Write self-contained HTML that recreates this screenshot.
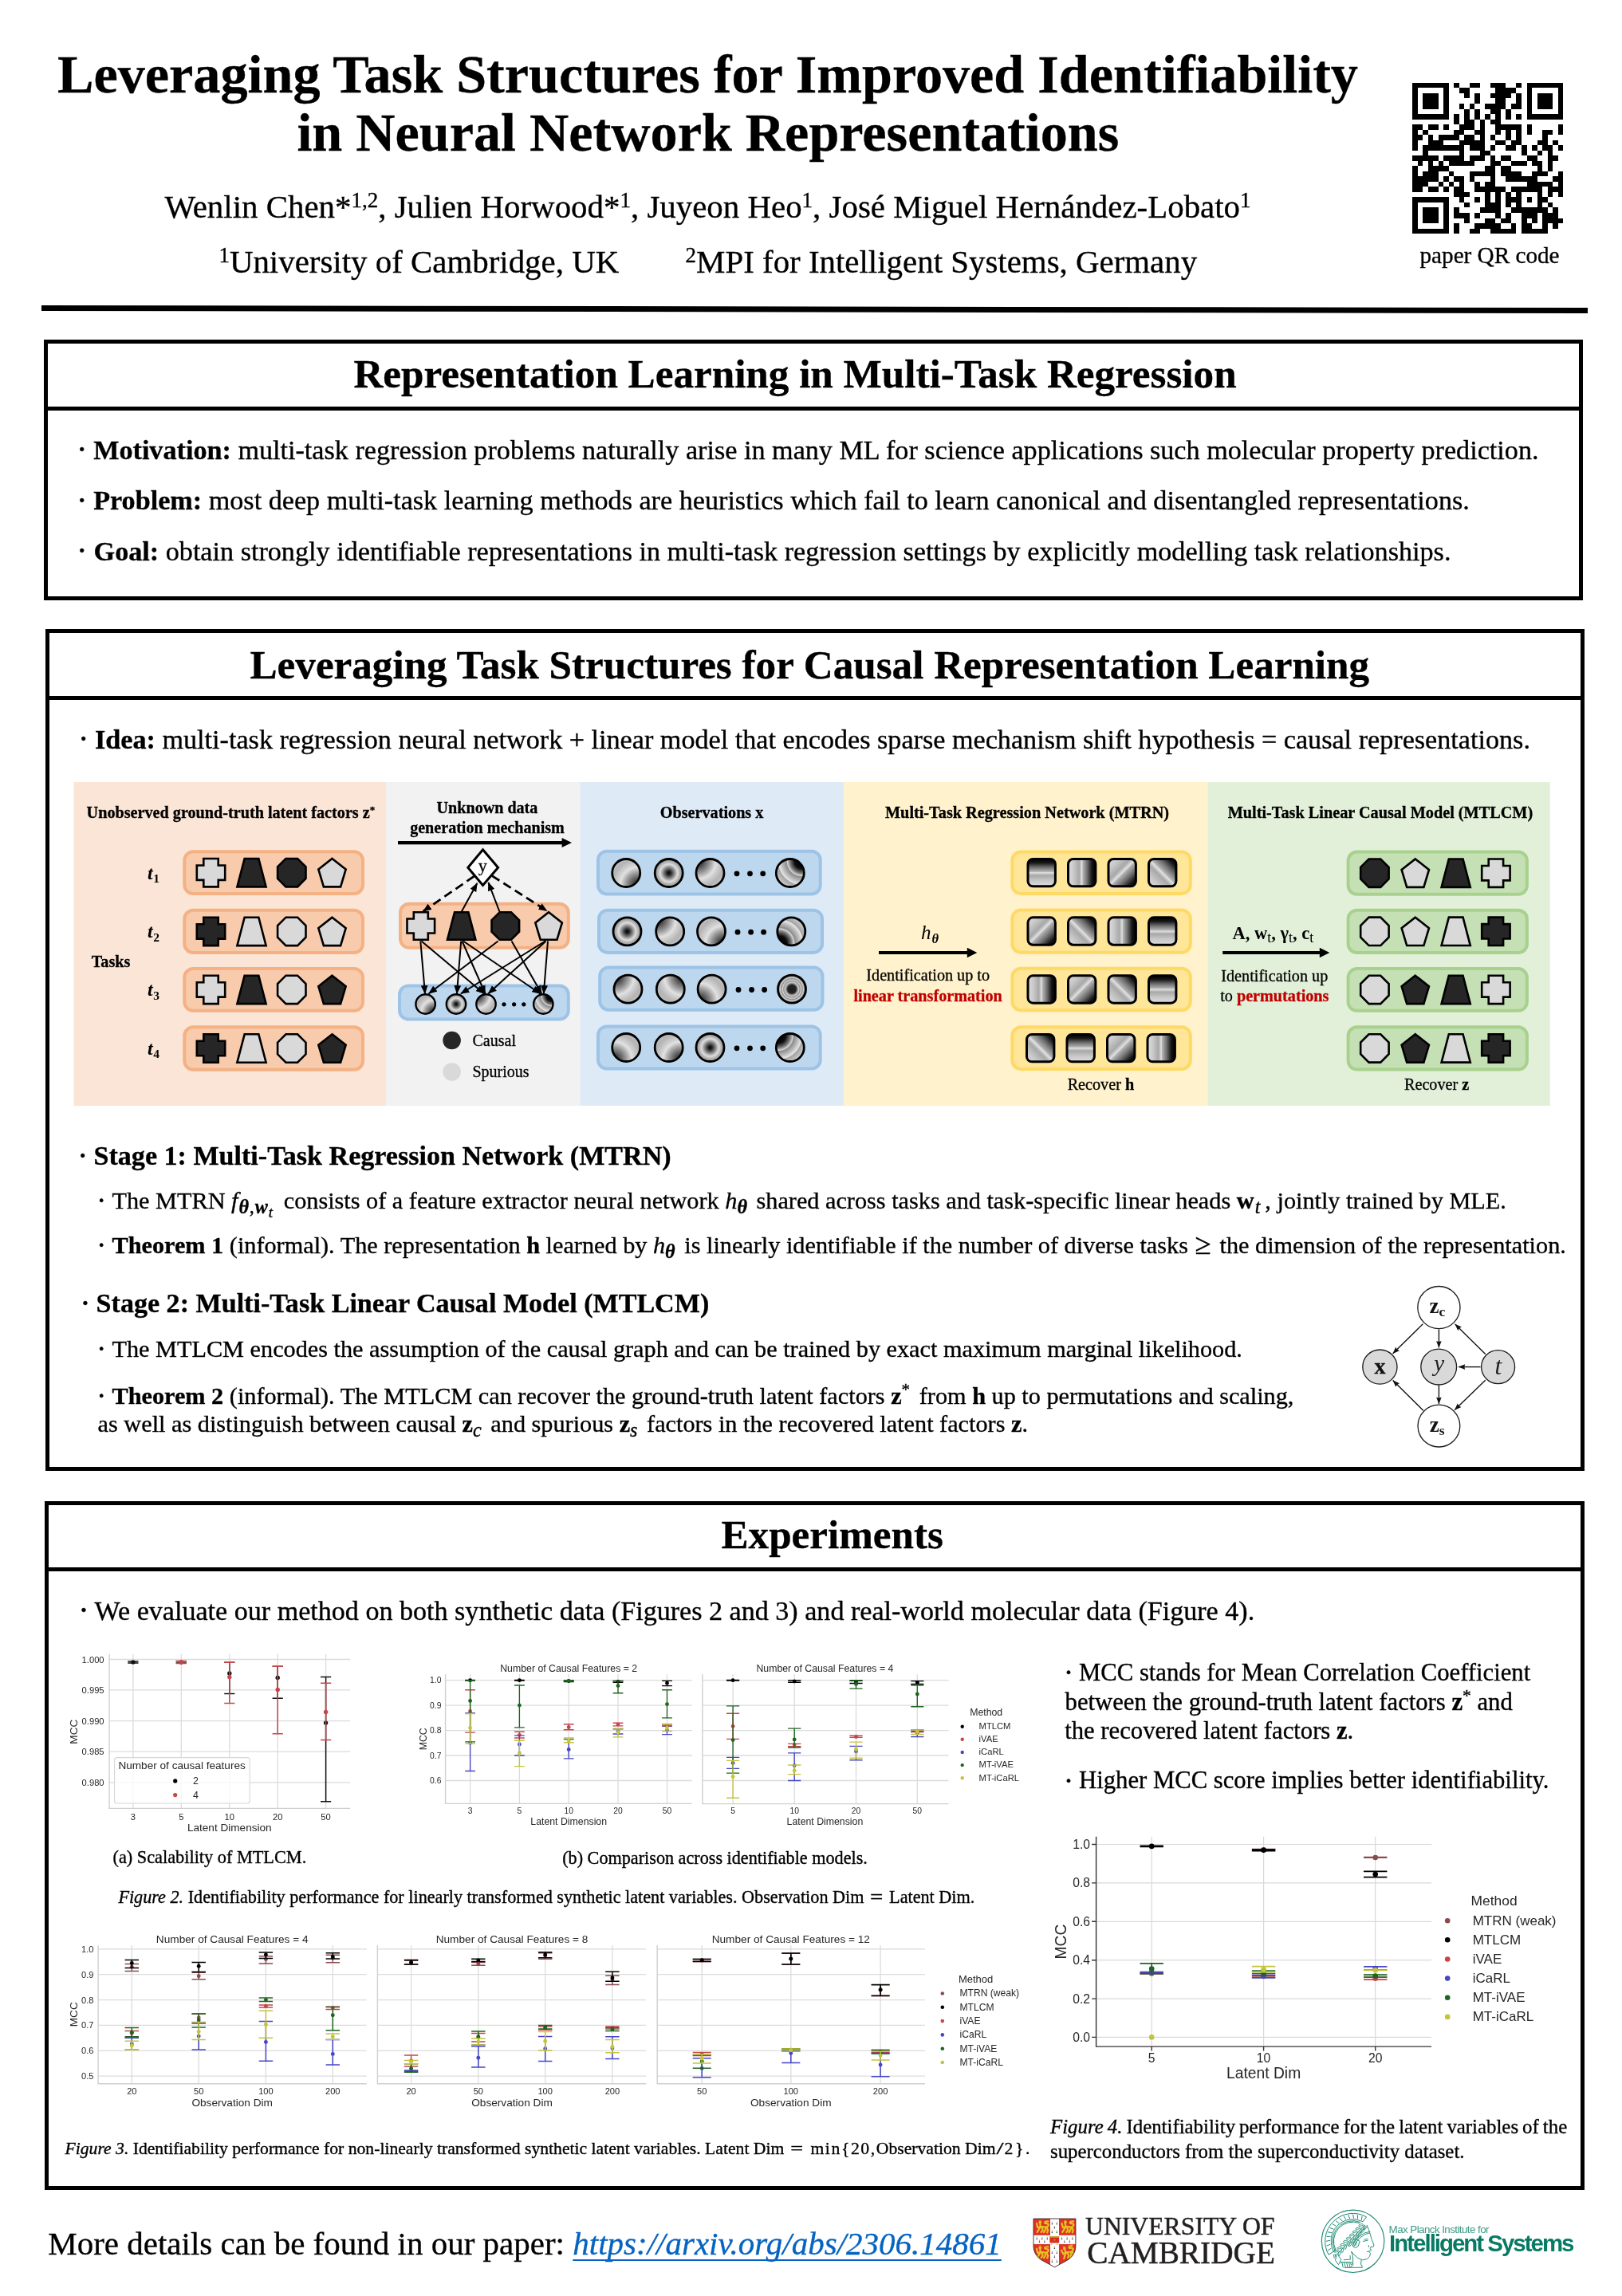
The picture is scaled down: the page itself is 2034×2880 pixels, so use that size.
<!DOCTYPE html>
<html><head><meta charset="utf-8"><title>Leveraging Task Structures for Improved Identifiability in Neural Network Representations</title>
<style>
html,body{margin:0;padding:0;background:#fff;}
body{width:2034px;height:2880px;position:relative;overflow:hidden;font-family:"Liberation Serif", serif;color:#000;}
.t{position:absolute;white-space:nowrap;line-height:1;font-family:"Liberation Serif", serif;-webkit-text-stroke:0.35px currentColor;}
.b{font-weight:bold;}
.box{position:absolute;border:5px solid #000;box-sizing:content-box;}
.hr{position:absolute;background:#000;}
.sup{font-size:66%;position:relative;top:-0.5em;line-height:0;}
.sup2{font-size:70%;position:relative;top:-0.5em;line-height:0;}
.sub{font-size:72%;position:relative;top:0.22em;line-height:0;}
.sub2{font-size:78%;position:relative;top:0.28em;line-height:0;}
.m .sub{font-size:80%;top:0.24em;}
.mf .sub{letter-spacing:0.8px;margin-left:1px;}
.m{margin-right:4px;}
.mf{margin-right:5.5px;}
.mw{margin-right:6px;}
.mw .sub{margin-left:1px;}
.ge{font-size:122%;line-height:0;margin:0 3.5px 0 0.7px;position:relative;top:0.03em;}
.eq{display:inline-block;transform:scaleX(1.3);margin:0 4px;}
.cm1{letter-spacing:1.6px;margin-left:2px;}
.sl{display:inline-block;transform:scaleX(1.5);margin:0 2.4px 0 2.6px;}
.cm3{letter-spacing:2.6px;}
.lnk{font-style:italic;color:#0563C1;text-decoration:underline;text-decoration-thickness:2.3px;text-underline-offset:6.3px;text-decoration-skip-ink:none;}
svg.ov{position:absolute;left:0;top:0;}
#pg{position:absolute;left:0;top:0;width:2034px;height:2880px;will-change:transform;}
</style></head>
<body>
<div id="pg">
<div class="box" style="left:55px;top:426px;width:1920px;height:317px;border-width:5px"></div>
<div class="hr" style="left:55px;top:510px;width:1930px;height:5px"></div>
<div class="box" style="left:57px;top:789px;width:1920px;height:1046px;border-width:5px"></div>
<div class="hr" style="left:57px;top:873px;width:1930px;height:5px"></div>
<div class="box" style="left:56px;top:1883px;width:1921px;height:854px;border-width:5px"></div>
<div class="hr" style="left:56px;top:1966px;width:1931px;height:5px"></div>
<div class="t b" style="left:72.00px;top:55px;font-size:68.20px;line-height:76px;">Leveraging Task Structures for Improved Identifiability</div>
<div class="t b" style="left:372.40px;top:128px;font-size:68.20px;line-height:76px;">in Neural Network Representations</div>
<div class="t " style="left:206.40px;top:237px;font-size:40.90px;line-height:45px;">Wenlin Chen*<span class="sup">1,2</span>, Julien Horwood*<span class="sup">1</span>, Juyeon Heo<span class="sup">1</span>, José Miguel Hernández-Lobato<span class="sup">1</span></div>
<div class="t " style="left:274.40px;top:306px;font-size:40.90px;line-height:45px;"><span class="sup">1</span>University of Cambridge, UK</div>
<div class="t " style="left:859.60px;top:306px;font-size:40.90px;line-height:45px;"><span class="sup">2</span>MPI for Intelligent Systems, Germany</div>
<div class="t " style="left:1780.50px;top:304px;font-size:29.20px;line-height:32px;">paper QR code</div>
<div class="t b" style="left:443.40px;top:440px;font-size:51.15px;line-height:57px;">Representation Learning in Multi-Task Regression</div>
<div class="t b" style="left:313.50px;top:805px;font-size:51.15px;line-height:57px;">Leveraging Task Structures for Causal Representation Learning</div>
<div class="t b" style="left:904.50px;top:1896px;font-size:51.15px;line-height:57px;">Experiments</div>
<div class="t " style="left:95.83px;top:541px;font-size:41.69px;line-height:46px;">·</div>
<div class="t " style="left:117.20px;top:546px;font-size:34.17px;line-height:37px;"><b>Motivation:</b> multi-task regression problems naturally arise in many ML for science applications such molecular property prediction.</div>
<div class="t " style="left:95.83px;top:605px;font-size:41.69px;line-height:46px;">·</div>
<div class="t " style="left:117.20px;top:609px;font-size:34.17px;line-height:37px;"><b>Problem:</b> most deep multi-task learning methods are heuristics which fail to learn canonical and disentangled representations.</div>
<div class="t " style="left:95.83px;top:668px;font-size:41.69px;line-height:46px;">·</div>
<div class="t " style="left:117.60px;top:673px;font-size:34.17px;line-height:37px;"><b>Goal:</b> obtain strongly identifiable representations in multi-task regression settings by explicitly modelling task relationships.</div>
<div class="t " style="left:97.83px;top:904px;font-size:41.69px;line-height:46px;">·</div>
<div class="t " style="left:119.00px;top:909px;font-size:34.17px;line-height:37px;"><b>Idea:</b> multi-task regression neural network + linear model that encodes sparse mechanism shift hypothesis = causal representations.</div>
<div class="t " style="left:96.84px;top:1427px;font-size:41.60px;line-height:46px;">·</div>
<div class="t " style="left:117.50px;top:1431px;font-size:34.10px;line-height:37px;"><b>Stage 1: Multi-Task Regression Network (MTRN)</b></div>
<div class="t " style="left:121.01px;top:1485px;font-size:36.91px;line-height:41px;">·</div>
<div class="t " style="left:140.50px;top:1489px;font-size:30.25px;line-height:34px;">The MTRN <span class="m mf"><i>f</i><span class="sub"><b><i>θ</i></b>,<b><i>w</i></b><span class=sub2><i>t</i></span></span></span> consists of a feature extractor neural network <span class="m"><i>h</i><span class="sub"><b><i>θ</i></b></span></span> shared across tasks and task-specific linear heads <span class="m mw"><b>w</b><span class="sub"><i>t</i></span></span>, jointly trained by MLE.</div>
<div class="t " style="left:121.01px;top:1541px;font-size:36.91px;line-height:41px;">·</div>
<div class="t " style="left:140.50px;top:1545px;font-size:30.25px;line-height:34px;"><b>Theorem 1</b> (informal). The representation <b>h</b> learned by <span class="m"><i>h</i><span class="sub"><b><i>θ</i></b></span></span> is linearly identifiable if the number of diverse tasks <span class="ge">≥</span> the dimension of the representation.</div>
<div class="t " style="left:99.94px;top:1612px;font-size:41.60px;line-height:46px;">·</div>
<div class="t " style="left:120.60px;top:1616px;font-size:34.10px;line-height:37px;"><b>Stage 2: Multi-Task Linear Causal Model (MTLCM)</b></div>
<div class="t " style="left:121.01px;top:1671px;font-size:36.91px;line-height:41px;">·</div>
<div class="t " style="left:140.50px;top:1675px;font-size:30.25px;line-height:34px;">The MTLCM encodes the assumption of the causal graph and can be trained by exact maximum marginal likelihood.</div>
<div class="t " style="left:121.01px;top:1730px;font-size:36.91px;line-height:41px;">·</div>
<div class="t " style="left:140.50px;top:1734px;font-size:30.25px;line-height:34px;"><b>Theorem 2</b> (informal). The MTLCM can recover the ground-truth latent factors <span class="m mz"><b>z</b><span class="sup2">*</span></span> from <b>h</b> up to permutations and scaling,</div>
<div class="t " style="left:122.60px;top:1769px;font-size:30.25px;line-height:34px;">as well as distinguish between causal <span class="m mz"><b>z</b><span class="sub"><i>c</i></span></span> and spurious <span class="m mz"><b>z</b><span class="sub"><i>s</i></span></span> factors in the recovered latent factors <b>z</b>.</div>
<div class="t " style="left:98.04px;top:1997px;font-size:41.60px;line-height:46px;">·</div>
<div class="t " style="left:118.60px;top:2002px;font-size:34.10px;line-height:37px;">We evaluate our method on both synthetic data (Figures 2 and 3) and real-world molecular data (Figure 4).</div>
<div class="t " style="left:1333.65px;top:2077px;font-size:37.45px;line-height:41px;">·</div>
<div class="t " style="left:1353.00px;top:2081px;font-size:30.70px;line-height:34px;">MCC stands for Mean Correlation Coefficient</div>
<div class="t " style="left:1335.60px;top:2118px;font-size:30.70px;line-height:34px;">between the ground-truth latent factors <b>z</b><span class="sup2">*</span> and</div>
<div class="t " style="left:1335.20px;top:2154px;font-size:30.70px;line-height:34px;">the recovered latent factors <b>z</b>.</div>
<div class="t " style="left:1333.65px;top:2213px;font-size:37.45px;line-height:41px;">·</div>
<div class="t " style="left:1353.00px;top:2216px;font-size:30.70px;line-height:34px;">Higher MCC score implies better identifiability.</div>
<div class="t " style="left:141.50px;top:2317px;font-size:22.30px;line-height:25px;">(a) Scalability of MTLCM.</div>
<div class="t " style="left:705.20px;top:2318px;font-size:22.20px;line-height:25px;">(b) Comparison across identifiable models.</div>
<div class="t " style="left:148.40px;top:2367px;font-size:22.20px;line-height:25px;"><i>Figure 2.</i> Identifiability performance for linearly transformed synthetic latent variables. Observation Dim <span class="eq">=</span> Latent Dim.</div>
<div class="t " style="left:81.50px;top:2683px;font-size:21.67px;line-height:24px;"><i>Figure 3.</i> Identifiability performance for non-linearly transformed synthetic latent variables. Latent Dim <span class="eq">=</span> <span class="cm1">min{20,</span>Observation Dim<span class="sl">/</span><span class="cm3">2}</span>.</div>
<div class="t " style="left:1317.00px;top:2654px;font-size:24.85px;line-height:27px;word-spacing:-1.15px"><i>Figure 4.</i> Identifiability performance for the latent variables of the</div>
<div class="t " style="left:1317.00px;top:2685px;font-size:24.85px;line-height:27px;">superconductors from the superconductivity dataset.</div>
<div class="t " style="left:60.20px;top:2791px;font-size:41.00px;line-height:46px;">More details can be found in our paper: <span class="lnk">https://arxiv.org/abs/2306.14861</span></div>
<svg class="ov" width="2034" height="2880" viewBox="0 0 2034 2880">
<defs><radialGradient id="gTL" cx="0.08" cy="0.08" r="1.18" fx="0.08" fy="0.08"><stop offset="0" stop-color="#181818"/><stop offset="0.16" stop-color="#505050"/><stop offset="0.36" stop-color="#9c9c9c"/><stop offset="0.53" stop-color="#e2e2e2"/><stop offset="0.6" stop-color="#d2d2d2"/><stop offset="0.78" stop-color="#b4b4b4"/><stop offset="1" stop-color="#c6c6c6"/></radialGradient><radialGradient id="mTL" cx="0.08" cy="0.08" r="1.18" fx="0.08" fy="0.08"><stop offset="0" stop-color="#000"/><stop offset="0.22" stop-color="#0c0c0c"/><stop offset="0.36" stop-color="#7a7a7a"/><stop offset="0.44" stop-color="#d6d6d6"/><stop offset="0.47" stop-color="#8c8c8c"/><stop offset="0.6" stop-color="#bcbcbc"/><stop offset="0.7" stop-color="#e6e6e6"/><stop offset="0.73" stop-color="#a4a4a4"/><stop offset="0.9" stop-color="#cacaca"/><stop offset="1" stop-color="#d6d6d6"/></radialGradient><radialGradient id="gTR" cx="0.92" cy="0.08" r="1.18" fx="0.92" fy="0.08"><stop offset="0" stop-color="#181818"/><stop offset="0.16" stop-color="#505050"/><stop offset="0.36" stop-color="#9c9c9c"/><stop offset="0.53" stop-color="#e2e2e2"/><stop offset="0.6" stop-color="#d2d2d2"/><stop offset="0.78" stop-color="#b4b4b4"/><stop offset="1" stop-color="#c6c6c6"/></radialGradient><radialGradient id="mTR" cx="0.92" cy="0.08" r="1.18" fx="0.92" fy="0.08"><stop offset="0" stop-color="#000"/><stop offset="0.22" stop-color="#0c0c0c"/><stop offset="0.36" stop-color="#7a7a7a"/><stop offset="0.44" stop-color="#d6d6d6"/><stop offset="0.47" stop-color="#8c8c8c"/><stop offset="0.6" stop-color="#bcbcbc"/><stop offset="0.7" stop-color="#e6e6e6"/><stop offset="0.73" stop-color="#a4a4a4"/><stop offset="0.9" stop-color="#cacaca"/><stop offset="1" stop-color="#d6d6d6"/></radialGradient><radialGradient id="gBL" cx="0.08" cy="0.92" r="1.18" fx="0.08" fy="0.92"><stop offset="0" stop-color="#181818"/><stop offset="0.16" stop-color="#505050"/><stop offset="0.36" stop-color="#9c9c9c"/><stop offset="0.53" stop-color="#e2e2e2"/><stop offset="0.6" stop-color="#d2d2d2"/><stop offset="0.78" stop-color="#b4b4b4"/><stop offset="1" stop-color="#c6c6c6"/></radialGradient><radialGradient id="mBL" cx="0.08" cy="0.92" r="1.18" fx="0.08" fy="0.92"><stop offset="0" stop-color="#000"/><stop offset="0.22" stop-color="#0c0c0c"/><stop offset="0.36" stop-color="#7a7a7a"/><stop offset="0.44" stop-color="#d6d6d6"/><stop offset="0.47" stop-color="#8c8c8c"/><stop offset="0.6" stop-color="#bcbcbc"/><stop offset="0.7" stop-color="#e6e6e6"/><stop offset="0.73" stop-color="#a4a4a4"/><stop offset="0.9" stop-color="#cacaca"/><stop offset="1" stop-color="#d6d6d6"/></radialGradient><radialGradient id="gBR" cx="0.92" cy="0.92" r="1.18" fx="0.92" fy="0.92"><stop offset="0" stop-color="#181818"/><stop offset="0.16" stop-color="#505050"/><stop offset="0.36" stop-color="#9c9c9c"/><stop offset="0.53" stop-color="#e2e2e2"/><stop offset="0.6" stop-color="#d2d2d2"/><stop offset="0.78" stop-color="#b4b4b4"/><stop offset="1" stop-color="#c6c6c6"/></radialGradient><radialGradient id="mBR" cx="0.92" cy="0.92" r="1.18" fx="0.92" fy="0.92"><stop offset="0" stop-color="#000"/><stop offset="0.22" stop-color="#0c0c0c"/><stop offset="0.36" stop-color="#7a7a7a"/><stop offset="0.44" stop-color="#d6d6d6"/><stop offset="0.47" stop-color="#8c8c8c"/><stop offset="0.6" stop-color="#bcbcbc"/><stop offset="0.7" stop-color="#e6e6e6"/><stop offset="0.73" stop-color="#a4a4a4"/><stop offset="0.9" stop-color="#cacaca"/><stop offset="1" stop-color="#d6d6d6"/></radialGradient><radialGradient id="gC" cx="0.5" cy="0.5" r="0.5" fx="0.5" fy="0.5"><stop offset="0" stop-color="#080808"/><stop offset="0.12" stop-color="#1c1c1c"/><stop offset="0.42" stop-color="#909090"/><stop offset="0.62" stop-color="#dedede"/><stop offset="0.8" stop-color="#b2b2b2"/><stop offset="1" stop-color="#8e8e8e"/></radialGradient><radialGradient id="mC" cx="0.5" cy="0.5" r="0.5" fx="0.5" fy="0.5"><stop offset="0" stop-color="#1c1c1c"/><stop offset="0.3" stop-color="#242424"/><stop offset="0.4" stop-color="#8a8a8a"/><stop offset="0.5" stop-color="#cfcfcf"/><stop offset="0.58" stop-color="#8a8a8a"/><stop offset="0.66" stop-color="#d8d8d8"/><stop offset="0.74" stop-color="#8c8c8c"/><stop offset="0.83" stop-color="#cdcdcd"/><stop offset="0.92" stop-color="#909090"/><stop offset="1" stop-color="#bdbdbd"/></radialGradient><linearGradient id="sH" x1="0" y1="1" x2="0" y2="0"><stop offset="0" stop-color="#dedede"/><stop offset="0.2" stop-color="#c9c9c9"/><stop offset="0.4" stop-color="#a8a8a8"/><stop offset="0.47" stop-color="#cfcfcf"/><stop offset="0.5" stop-color="#e2e2e2"/><stop offset="0.54" stop-color="#b2b2b2"/><stop offset="0.7" stop-color="#6c6c6c"/><stop offset="0.86" stop-color="#161616"/><stop offset="1" stop-color="#000"/></linearGradient><linearGradient id="sV" x1="0" y1="0" x2="1" y2="0"><stop offset="0" stop-color="#dedede"/><stop offset="0.2" stop-color="#c9c9c9"/><stop offset="0.4" stop-color="#a8a8a8"/><stop offset="0.47" stop-color="#cfcfcf"/><stop offset="0.5" stop-color="#e2e2e2"/><stop offset="0.54" stop-color="#b2b2b2"/><stop offset="0.7" stop-color="#6c6c6c"/><stop offset="0.86" stop-color="#161616"/><stop offset="1" stop-color="#000"/></linearGradient><linearGradient id="sD1" x1="0" y1="0" x2="1" y2="1"><stop offset="0" stop-color="#dedede"/><stop offset="0.2" stop-color="#c9c9c9"/><stop offset="0.4" stop-color="#a8a8a8"/><stop offset="0.47" stop-color="#cfcfcf"/><stop offset="0.5" stop-color="#e2e2e2"/><stop offset="0.54" stop-color="#b2b2b2"/><stop offset="0.7" stop-color="#6c6c6c"/><stop offset="0.86" stop-color="#161616"/><stop offset="1" stop-color="#000"/></linearGradient><linearGradient id="sD2" x1="0" y1="1" x2="1" y2="0"><stop offset="0" stop-color="#dedede"/><stop offset="0.2" stop-color="#c9c9c9"/><stop offset="0.4" stop-color="#a8a8a8"/><stop offset="0.47" stop-color="#cfcfcf"/><stop offset="0.5" stop-color="#e2e2e2"/><stop offset="0.54" stop-color="#b2b2b2"/><stop offset="0.7" stop-color="#6c6c6c"/><stop offset="0.86" stop-color="#161616"/><stop offset="1" stop-color="#000"/></linearGradient></defs>
<polygon points="52,383 1991,386 1991,393 52,390" fill="#000"/>
<path d="M1771.00 103.90h45.66v6.52h-45.66zM1823.18 103.90h6.52v6.52h-6.52zM1842.75 103.90h13.05v6.52h-13.05zM1868.85 103.90h19.57v6.52h-19.57zM1901.46 103.90h6.52v6.52h-6.52zM1914.51 103.90h45.66v6.52h-45.66zM1771.00 110.42h6.52v6.52h-6.52zM1810.14 110.42h6.52v6.52h-6.52zM1829.71 110.42h13.05v6.52h-13.05zM1875.37 110.42h26.09v6.52h-26.09zM1914.51 110.42h6.52v6.52h-6.52zM1953.64 110.42h6.52v6.52h-6.52zM1771.00 116.95h6.52v6.52h-6.52zM1784.05 116.95h19.57v6.52h-19.57zM1810.14 116.95h6.52v6.52h-6.52zM1836.23 116.95h6.52v6.52h-6.52zM1849.28 116.95h6.52v6.52h-6.52zM1868.85 116.95h26.09v6.52h-26.09zM1901.46 116.95h6.52v6.52h-6.52zM1914.51 116.95h6.52v6.52h-6.52zM1927.55 116.95h19.57v6.52h-19.57zM1953.64 116.95h6.52v6.52h-6.52zM1771.00 123.47h6.52v6.52h-6.52zM1784.05 123.47h19.57v6.52h-19.57zM1810.14 123.47h6.52v6.52h-6.52zM1849.28 123.47h6.52v6.52h-6.52zM1875.37 123.47h13.05v6.52h-13.05zM1901.46 123.47h6.52v6.52h-6.52zM1914.51 123.47h6.52v6.52h-6.52zM1927.55 123.47h19.57v6.52h-19.57zM1953.64 123.47h6.52v6.52h-6.52zM1771.00 129.99h6.52v6.52h-6.52zM1784.05 129.99h19.57v6.52h-19.57zM1810.14 129.99h6.52v6.52h-6.52zM1829.71 129.99h6.52v6.52h-6.52zM1842.75 129.99h6.52v6.52h-6.52zM1862.32 129.99h26.09v6.52h-26.09zM1894.94 129.99h13.05v6.52h-13.05zM1914.51 129.99h6.52v6.52h-6.52zM1927.55 129.99h19.57v6.52h-19.57zM1953.64 129.99h6.52v6.52h-6.52zM1771.00 136.51h6.52v6.52h-6.52zM1810.14 136.51h6.52v6.52h-6.52zM1836.23 136.51h6.52v6.52h-6.52zM1849.28 136.51h6.52v6.52h-6.52zM1868.85 136.51h13.05v6.52h-13.05zM1888.41 136.51h6.52v6.52h-6.52zM1914.51 136.51h6.52v6.52h-6.52zM1953.64 136.51h6.52v6.52h-6.52zM1771.00 143.04h45.66v6.52h-45.66zM1823.18 143.04h6.52v6.52h-6.52zM1836.23 143.04h6.52v6.52h-6.52zM1849.28 143.04h6.52v6.52h-6.52zM1862.32 143.04h6.52v6.52h-6.52zM1875.37 143.04h6.52v6.52h-6.52zM1888.41 143.04h6.52v6.52h-6.52zM1901.46 143.04h6.52v6.52h-6.52zM1914.51 143.04h45.66v6.52h-45.66zM1823.18 149.56h6.52v6.52h-6.52zM1836.23 149.56h13.05v6.52h-13.05zM1855.80 149.56h6.52v6.52h-6.52zM1868.85 149.56h13.05v6.52h-13.05zM1771.00 156.08h13.05v6.52h-13.05zM1790.57 156.08h13.05v6.52h-13.05zM1810.14 156.08h6.52v6.52h-6.52zM1829.71 156.08h19.57v6.52h-19.57zM1855.80 156.08h6.52v6.52h-6.52zM1875.37 156.08h32.61v6.52h-32.61zM1914.51 156.08h6.52v6.52h-6.52zM1953.64 156.08h6.52v6.52h-6.52zM1771.00 162.61h6.52v6.52h-6.52zM1784.05 162.61h6.52v6.52h-6.52zM1823.18 162.61h13.05v6.52h-13.05zM1849.28 162.61h13.05v6.52h-13.05zM1875.37 162.61h6.52v6.52h-6.52zM1888.41 162.61h6.52v6.52h-6.52zM1901.46 162.61h6.52v6.52h-6.52zM1914.51 162.61h6.52v6.52h-6.52zM1934.08 162.61h13.05v6.52h-13.05zM1953.64 162.61h6.52v6.52h-6.52zM1771.00 169.13h13.05v6.52h-13.05zM1790.57 169.13h6.52v6.52h-6.52zM1803.62 169.13h26.09v6.52h-26.09zM1836.23 169.13h13.05v6.52h-13.05zM1855.80 169.13h6.52v6.52h-6.52zM1868.85 169.13h6.52v6.52h-6.52zM1888.41 169.13h6.52v6.52h-6.52zM1901.46 169.13h6.52v6.52h-6.52zM1934.08 169.13h6.52v6.52h-6.52zM1771.00 175.65h6.52v6.52h-6.52zM1790.57 175.65h19.57v6.52h-19.57zM1829.71 175.65h32.61v6.52h-32.61zM1875.37 175.65h13.05v6.52h-13.05zM1894.94 175.65h13.05v6.52h-13.05zM1927.55 175.65h13.05v6.52h-13.05zM1947.12 175.65h6.52v6.52h-6.52zM1771.00 182.18h6.52v6.52h-6.52zM1784.05 182.18h52.18v6.52h-52.18zM1842.75 182.18h19.57v6.52h-19.57zM1868.85 182.18h6.52v6.52h-6.52zM1888.41 182.18h13.05v6.52h-13.05zM1907.98 182.18h6.52v6.52h-6.52zM1921.03 182.18h6.52v6.52h-6.52zM1934.08 182.18h13.05v6.52h-13.05zM1953.64 182.18h6.52v6.52h-6.52zM1784.05 188.70h6.52v6.52h-6.52zM1829.71 188.70h6.52v6.52h-6.52zM1855.80 188.70h13.05v6.52h-13.05zM1907.98 188.70h6.52v6.52h-6.52zM1927.55 188.70h6.52v6.52h-6.52zM1940.60 188.70h6.52v6.52h-6.52zM1771.00 195.22h32.61v6.52h-32.61zM1810.14 195.22h26.09v6.52h-26.09zM1842.75 195.22h19.57v6.52h-19.57zM1868.85 195.22h6.52v6.52h-6.52zM1881.89 195.22h13.05v6.52h-13.05zM1914.51 195.22h13.05v6.52h-13.05zM1940.60 195.22h13.05v6.52h-13.05zM1777.52 201.75h6.52v6.52h-6.52zM1790.57 201.75h6.52v6.52h-6.52zM1803.62 201.75h6.52v6.52h-6.52zM1816.66 201.75h32.61v6.52h-32.61zM1868.85 201.75h13.05v6.52h-13.05zM1894.94 201.75h19.57v6.52h-19.57zM1921.03 201.75h13.05v6.52h-13.05zM1940.60 201.75h6.52v6.52h-6.52zM1771.00 208.27h6.52v6.52h-6.52zM1790.57 208.27h26.09v6.52h-26.09zM1862.32 208.27h13.05v6.52h-13.05zM1881.89 208.27h13.05v6.52h-13.05zM1927.55 208.27h6.52v6.52h-6.52zM1940.60 208.27h6.52v6.52h-6.52zM1771.00 214.79h6.52v6.52h-6.52zM1784.05 214.79h19.57v6.52h-19.57zM1816.66 214.79h6.52v6.52h-6.52zM1842.75 214.79h32.61v6.52h-32.61zM1881.89 214.79h26.09v6.52h-26.09zM1921.03 214.79h19.57v6.52h-19.57zM1953.64 214.79h6.52v6.52h-6.52zM1771.00 221.31h32.61v6.52h-32.61zM1810.14 221.31h6.52v6.52h-6.52zM1823.18 221.31h13.05v6.52h-13.05zM1842.75 221.31h6.52v6.52h-6.52zM1868.85 221.31h6.52v6.52h-6.52zM1888.41 221.31h39.14v6.52h-39.14zM1947.12 221.31h13.05v6.52h-13.05zM1771.00 227.84h19.57v6.52h-19.57zM1803.62 227.84h6.52v6.52h-6.52zM1816.66 227.84h6.52v6.52h-6.52zM1829.71 227.84h6.52v6.52h-6.52zM1849.28 227.84h6.52v6.52h-6.52zM1862.32 227.84h13.05v6.52h-13.05zM1914.51 227.84h32.61v6.52h-32.61zM1953.64 227.84h6.52v6.52h-6.52zM1771.00 234.36h13.05v6.52h-13.05zM1790.57 234.36h13.05v6.52h-13.05zM1810.14 234.36h6.52v6.52h-6.52zM1823.18 234.36h13.05v6.52h-13.05zM1849.28 234.36h39.14v6.52h-39.14zM1894.94 234.36h39.14v6.52h-39.14zM1940.60 234.36h19.57v6.52h-19.57zM1823.18 240.88h19.57v6.52h-19.57zM1862.32 240.88h6.52v6.52h-6.52zM1875.37 240.88h6.52v6.52h-6.52zM1888.41 240.88h6.52v6.52h-6.52zM1901.46 240.88h6.52v6.52h-6.52zM1927.55 240.88h6.52v6.52h-6.52zM1940.60 240.88h6.52v6.52h-6.52zM1953.64 240.88h6.52v6.52h-6.52zM1771.00 247.41h45.66v6.52h-45.66zM1829.71 247.41h6.52v6.52h-6.52zM1849.28 247.41h6.52v6.52h-6.52zM1862.32 247.41h6.52v6.52h-6.52zM1875.37 247.41h6.52v6.52h-6.52zM1888.41 247.41h19.57v6.52h-19.57zM1914.51 247.41h6.52v6.52h-6.52zM1927.55 247.41h13.05v6.52h-13.05zM1771.00 253.93h6.52v6.52h-6.52zM1810.14 253.93h6.52v6.52h-6.52zM1836.23 253.93h6.52v6.52h-6.52zM1862.32 253.93h19.57v6.52h-19.57zM1888.41 253.93h6.52v6.52h-6.52zM1901.46 253.93h6.52v6.52h-6.52zM1927.55 253.93h6.52v6.52h-6.52zM1940.60 253.93h6.52v6.52h-6.52zM1771.00 260.45h6.52v6.52h-6.52zM1784.05 260.45h19.57v6.52h-19.57zM1810.14 260.45h6.52v6.52h-6.52zM1823.18 260.45h6.52v6.52h-6.52zM1855.80 260.45h26.09v6.52h-26.09zM1894.94 260.45h45.66v6.52h-45.66zM1947.12 260.45h6.52v6.52h-6.52zM1771.00 266.98h6.52v6.52h-6.52zM1784.05 266.98h19.57v6.52h-19.57zM1810.14 266.98h6.52v6.52h-6.52zM1823.18 266.98h19.57v6.52h-19.57zM1849.28 266.98h6.52v6.52h-6.52zM1875.37 266.98h6.52v6.52h-6.52zM1888.41 266.98h6.52v6.52h-6.52zM1907.98 266.98h19.57v6.52h-19.57zM1934.08 266.98h19.57v6.52h-19.57zM1771.00 273.50h6.52v6.52h-6.52zM1784.05 273.50h19.57v6.52h-19.57zM1810.14 273.50h6.52v6.52h-6.52zM1836.23 273.50h6.52v6.52h-6.52zM1862.32 273.50h13.05v6.52h-13.05zM1881.89 273.50h13.05v6.52h-13.05zM1907.98 273.50h6.52v6.52h-6.52zM1921.03 273.50h6.52v6.52h-6.52zM1934.08 273.50h26.09v6.52h-26.09zM1771.00 280.02h6.52v6.52h-6.52zM1810.14 280.02h6.52v6.52h-6.52zM1823.18 280.02h6.52v6.52h-6.52zM1849.28 280.02h32.61v6.52h-32.61zM1894.94 280.02h6.52v6.52h-6.52zM1907.98 280.02h13.05v6.52h-13.05zM1934.08 280.02h6.52v6.52h-6.52zM1947.12 280.02h6.52v6.52h-6.52zM1771.00 286.54h45.66v6.52h-45.66zM1823.18 286.54h6.52v6.52h-6.52zM1842.75 286.54h13.05v6.52h-13.05zM1868.85 286.54h32.61v6.52h-32.61zM1907.98 286.54h32.61v6.52h-32.61z" fill="#000" shape-rendering="crispEdges"/>
<rect x="92.5" y="981" width="391.5" height="406" fill="#FBE5D6"/>
<rect x="484" y="981" width="243.29999999999995" height="406" fill="#F2F2F2"/>
<rect x="727.3" y="981" width="330.9000000000001" height="406" fill="#DEEBF7"/>
<rect x="1058.2" y="981" width="456.0999999999999" height="406" fill="#FFF2CC"/>
<rect x="1514.3" y="981" width="429.5" height="406" fill="#E2F0D9"/>
<text x="108.60" y="1026.00" font-size="20.20" text-anchor="start" font-family='"Liberation Serif", serif' font-weight="bold" fill="#000"  stroke="#000" stroke-width="0.3">Unobserved ground-truth latent factors z<tspan dy="-6" font-size="13">*</tspan></text>
<text x="114.70" y="1213.00" font-size="20.20" text-anchor="start" font-family='"Liberation Serif", serif' font-weight="bold" fill="#000"  stroke="#000" stroke-width="0.3">Tasks</text>
<rect x="231.30" y="1068.30" width="223.70" height="52.70" rx="11" fill="#F8CBAD" stroke="#F4B183" stroke-width="4"/>
<polygon points="255.30,1076.95 273.70,1076.95 273.70,1085.45 282.20,1085.45 282.20,1103.85 273.70,1103.85 273.70,1112.35 255.30,1112.35 255.30,1103.85 246.80,1103.85 246.80,1085.45 255.30,1085.45" fill="#D9D9D9" stroke="#000" stroke-width="2.6" stroke-linejoin="miter"/>
<polygon points="306.65,1076.95 324.35,1076.95 333.60,1112.35 297.40,1112.35" fill="#262626" stroke="#000" stroke-width="2.6" stroke-linejoin="miter"/>
<polygon points="358.47,1076.95 373.13,1076.95 383.50,1087.32 383.50,1101.98 373.13,1112.35 358.47,1112.35 348.10,1101.98 348.10,1087.32" fill="#262626" stroke="#000" stroke-width="2.6" stroke-linejoin="miter"/>
<polygon points="416.50,1076.95 433.67,1090.47 427.11,1112.35 405.89,1112.35 399.33,1090.47" fill="#D9D9D9" stroke="#000" stroke-width="2.6" stroke-linejoin="miter"/>
<text x="185" y="1102.5" font-family='"Liberation Serif", serif' font-weight="bold" font-style="italic" font-size="24" fill="#000">t<tspan dy="4.5" dx="0.5" font-size="15.5" font-style="normal">1</tspan></text>
<rect x="231.30" y="1141.80" width="223.70" height="53.20" rx="11" fill="#F8CBAD" stroke="#F4B183" stroke-width="4"/>
<polygon points="255.30,1150.70 273.70,1150.70 273.70,1159.20 282.20,1159.20 282.20,1177.60 273.70,1177.60 273.70,1186.10 255.30,1186.10 255.30,1177.60 246.80,1177.60 246.80,1159.20 255.30,1159.20" fill="#262626" stroke="#000" stroke-width="2.6" stroke-linejoin="miter"/>
<polygon points="306.65,1150.70 324.35,1150.70 333.60,1186.10 297.40,1186.10" fill="#D9D9D9" stroke="#000" stroke-width="2.6" stroke-linejoin="miter"/>
<polygon points="358.47,1150.70 373.13,1150.70 383.50,1161.07 383.50,1175.73 373.13,1186.10 358.47,1186.10 348.10,1175.73 348.10,1161.07" fill="#D9D9D9" stroke="#000" stroke-width="2.6" stroke-linejoin="miter"/>
<polygon points="416.50,1150.70 433.67,1164.22 427.11,1186.10 405.89,1186.10 399.33,1164.22" fill="#D9D9D9" stroke="#000" stroke-width="2.6" stroke-linejoin="miter"/>
<text x="185" y="1176.2" font-family='"Liberation Serif", serif' font-weight="bold" font-style="italic" font-size="24" fill="#000">t<tspan dy="4.5" dx="0.5" font-size="15.5" font-style="normal">2</tspan></text>
<rect x="231.30" y="1215.00" width="223.70" height="52.80" rx="11" fill="#F8CBAD" stroke="#F4B183" stroke-width="4"/>
<polygon points="255.30,1223.70 273.70,1223.70 273.70,1232.20 282.20,1232.20 282.20,1250.60 273.70,1250.60 273.70,1259.10 255.30,1259.10 255.30,1250.60 246.80,1250.60 246.80,1232.20 255.30,1232.20" fill="#D9D9D9" stroke="#000" stroke-width="2.6" stroke-linejoin="miter"/>
<polygon points="306.65,1223.70 324.35,1223.70 333.60,1259.10 297.40,1259.10" fill="#262626" stroke="#000" stroke-width="2.6" stroke-linejoin="miter"/>
<polygon points="358.47,1223.70 373.13,1223.70 383.50,1234.07 383.50,1248.73 373.13,1259.10 358.47,1259.10 348.10,1248.73 348.10,1234.07" fill="#D9D9D9" stroke="#000" stroke-width="2.6" stroke-linejoin="miter"/>
<polygon points="416.50,1223.70 433.67,1237.22 427.11,1259.10 405.89,1259.10 399.33,1237.22" fill="#262626" stroke="#000" stroke-width="2.6" stroke-linejoin="miter"/>
<text x="185" y="1249.2" font-family='"Liberation Serif", serif' font-weight="bold" font-style="italic" font-size="24" fill="#000">t<tspan dy="4.5" dx="0.5" font-size="15.5" font-style="normal">3</tspan></text>
<rect x="231.30" y="1288.30" width="223.70" height="53.40" rx="11" fill="#F8CBAD" stroke="#F4B183" stroke-width="4"/>
<polygon points="255.30,1297.30 273.70,1297.30 273.70,1305.80 282.20,1305.80 282.20,1324.20 273.70,1324.20 273.70,1332.70 255.30,1332.70 255.30,1324.20 246.80,1324.20 246.80,1305.80 255.30,1305.80" fill="#262626" stroke="#000" stroke-width="2.6" stroke-linejoin="miter"/>
<polygon points="306.65,1297.30 324.35,1297.30 333.60,1332.70 297.40,1332.70" fill="#D9D9D9" stroke="#000" stroke-width="2.6" stroke-linejoin="miter"/>
<polygon points="358.47,1297.30 373.13,1297.30 383.50,1307.67 383.50,1322.33 373.13,1332.70 358.47,1332.70 348.10,1322.33 348.10,1307.67" fill="#D9D9D9" stroke="#000" stroke-width="2.6" stroke-linejoin="miter"/>
<polygon points="416.50,1297.30 433.67,1310.82 427.11,1332.70 405.89,1332.70 399.33,1310.82" fill="#262626" stroke="#000" stroke-width="2.6" stroke-linejoin="miter"/>
<text x="185" y="1322.8" font-family='"Liberation Serif", serif' font-weight="bold" font-style="italic" font-size="24" fill="#000">t<tspan dy="4.5" dx="0.5" font-size="15.5" font-style="normal">4</tspan></text>
<text x="1539.70" y="1025.90" font-size="20.25" text-anchor="start" font-family='"Liberation Serif", serif' font-weight="bold" fill="#000"  stroke="#000" stroke-width="0.3">Multi-Task Linear Causal Model (MTLCM)</text>
<rect x="1690.60" y="1068.50" width="224.30" height="53.30" rx="11" fill="#C5E0B4" stroke="#A9D18E" stroke-width="4"/>
<polygon points="1716.57,1077.45 1731.23,1077.45 1741.60,1087.82 1741.60,1102.48 1731.23,1112.85 1716.57,1112.85 1706.20,1102.48 1706.20,1087.82" fill="#262626" stroke="#000" stroke-width="2.6" stroke-linejoin="miter"/>
<polygon points="1774.80,1077.45 1791.97,1090.97 1785.41,1112.85 1764.19,1112.85 1757.63,1090.97" fill="#D9D9D9" stroke="#000" stroke-width="2.6" stroke-linejoin="miter"/>
<polygon points="1816.85,1077.45 1834.55,1077.45 1843.80,1112.85 1807.60,1112.85" fill="#262626" stroke="#000" stroke-width="2.6" stroke-linejoin="miter"/>
<polygon points="1866.70,1077.45 1885.10,1077.45 1885.10,1085.95 1893.60,1085.95 1893.60,1104.35 1885.10,1104.35 1885.10,1112.85 1866.70,1112.85 1866.70,1104.35 1858.20,1104.35 1858.20,1085.95 1866.70,1085.95" fill="#D9D9D9" stroke="#000" stroke-width="2.6" stroke-linejoin="miter"/>
<rect x="1690.60" y="1141.70" width="224.30" height="53.30" rx="11" fill="#C5E0B4" stroke="#A9D18E" stroke-width="4"/>
<polygon points="1716.57,1150.65 1731.23,1150.65 1741.60,1161.02 1741.60,1175.68 1731.23,1186.05 1716.57,1186.05 1706.20,1175.68 1706.20,1161.02" fill="#D9D9D9" stroke="#000" stroke-width="2.6" stroke-linejoin="miter"/>
<polygon points="1774.80,1150.65 1791.97,1164.17 1785.41,1186.05 1764.19,1186.05 1757.63,1164.17" fill="#D9D9D9" stroke="#000" stroke-width="2.6" stroke-linejoin="miter"/>
<polygon points="1816.85,1150.65 1834.55,1150.65 1843.80,1186.05 1807.60,1186.05" fill="#D9D9D9" stroke="#000" stroke-width="2.6" stroke-linejoin="miter"/>
<polygon points="1866.70,1150.65 1885.10,1150.65 1885.10,1159.15 1893.60,1159.15 1893.60,1177.55 1885.10,1177.55 1885.10,1186.05 1866.70,1186.05 1866.70,1177.55 1858.20,1177.55 1858.20,1159.15 1866.70,1159.15" fill="#262626" stroke="#000" stroke-width="2.6" stroke-linejoin="miter"/>
<rect x="1690.60" y="1215.10" width="224.30" height="52.70" rx="11" fill="#C5E0B4" stroke="#A9D18E" stroke-width="4"/>
<polygon points="1716.57,1223.75 1731.23,1223.75 1741.60,1234.12 1741.60,1248.78 1731.23,1259.15 1716.57,1259.15 1706.20,1248.78 1706.20,1234.12" fill="#D9D9D9" stroke="#000" stroke-width="2.6" stroke-linejoin="miter"/>
<polygon points="1774.80,1223.75 1791.97,1237.27 1785.41,1259.15 1764.19,1259.15 1757.63,1237.27" fill="#262626" stroke="#000" stroke-width="2.6" stroke-linejoin="miter"/>
<polygon points="1816.85,1223.75 1834.55,1223.75 1843.80,1259.15 1807.60,1259.15" fill="#262626" stroke="#000" stroke-width="2.6" stroke-linejoin="miter"/>
<polygon points="1866.70,1223.75 1885.10,1223.75 1885.10,1232.25 1893.60,1232.25 1893.60,1250.65 1885.10,1250.65 1885.10,1259.15 1866.70,1259.15 1866.70,1250.65 1858.20,1250.65 1858.20,1232.25 1866.70,1232.25" fill="#D9D9D9" stroke="#000" stroke-width="2.6" stroke-linejoin="miter"/>
<rect x="1690.60" y="1288.30" width="224.30" height="53.30" rx="11" fill="#C5E0B4" stroke="#A9D18E" stroke-width="4"/>
<polygon points="1716.57,1297.25 1731.23,1297.25 1741.60,1307.62 1741.60,1322.28 1731.23,1332.65 1716.57,1332.65 1706.20,1322.28 1706.20,1307.62" fill="#D9D9D9" stroke="#000" stroke-width="2.6" stroke-linejoin="miter"/>
<polygon points="1774.80,1297.25 1791.97,1310.77 1785.41,1332.65 1764.19,1332.65 1757.63,1310.77" fill="#262626" stroke="#000" stroke-width="2.6" stroke-linejoin="miter"/>
<polygon points="1816.85,1297.25 1834.55,1297.25 1843.80,1332.65 1807.60,1332.65" fill="#D9D9D9" stroke="#000" stroke-width="2.6" stroke-linejoin="miter"/>
<polygon points="1866.70,1297.25 1885.10,1297.25 1885.10,1305.75 1893.60,1305.75 1893.60,1324.15 1885.10,1324.15 1885.10,1332.65 1866.70,1332.65 1866.70,1324.15 1858.20,1324.15 1858.20,1305.75 1866.70,1305.75" fill="#262626" stroke="#000" stroke-width="2.6" stroke-linejoin="miter"/>
<path d="M1533.2 1192.9H1654.8V1188.8L1667.3 1195L1654.8 1201.2V1197.1H1533.2z" fill="#000"/>
<text x="1545.4" y="1178" font-family='"Liberation Serif", serif' font-weight="bold" font-size="22.5" fill="#000">A, w<tspan dy="4" font-size="18" font-weight="normal">t</tspan><tspan dy="-4">, γ</tspan><tspan dy="4" font-size="18" font-weight="normal">t</tspan><tspan dy="-4">, c</tspan><tspan dy="4" font-size="18" font-weight="normal">t</tspan></text>
<text x="1598.30" y="1230.90" font-size="20.20" text-anchor="middle" font-family='"Liberation Serif", serif' font-weight="normal" fill="#000"  stroke="#000" stroke-width="0.3">Identification up</text>
<text x="1598.3" y="1255.6" text-anchor="middle" font-family='"Liberation Serif", serif' font-size="20.2" fill="#000" stroke="#000" stroke-width="0.3">to <tspan font-weight="bold" fill="#C00000" stroke="#C00000">permutations</tspan></text>
<text x="1801.6" y="1366.8" text-anchor="middle" font-family='"Liberation Serif", serif' font-size="20.2" fill="#000" stroke="#000" stroke-width="0.3">Recover <tspan font-weight="bold">z</tspan></text>
<text x="1110.00" y="1026.00" font-size="20.25" text-anchor="start" font-family='"Liberation Serif", serif' font-weight="bold" fill="#000"  stroke="#000" stroke-width="0.3">Multi-Task Regression Network (MTRN)</text>
<rect x="1269.30" y="1068.40" width="223.50" height="52.50" rx="11" fill="#FFE699" stroke="#FFD966" stroke-width="4"/>
<rect x="1289.00" y="1077.45" width="34.4" height="34.4" rx="6.5" fill="url(#sH)" stroke="#000" stroke-width="3"/>
<rect x="1339.50" y="1077.45" width="34.4" height="34.4" rx="6.5" fill="url(#sV)" stroke="#000" stroke-width="3"/>
<rect x="1390.00" y="1077.45" width="34.4" height="34.4" rx="6.5" fill="url(#sD1)" stroke="#000" stroke-width="3"/>
<rect x="1440.50" y="1077.45" width="34.4" height="34.4" rx="6.5" fill="url(#sD2)" stroke="#000" stroke-width="3"/>
<rect x="1269.30" y="1141.40" width="223.50" height="53.30" rx="11" fill="#FFE699" stroke="#FFD966" stroke-width="4"/>
<rect x="1289.00" y="1150.85" width="34.4" height="34.4" rx="6.5" fill="url(#sD1)" stroke="#000" stroke-width="3"/>
<rect x="1339.50" y="1150.85" width="34.4" height="34.4" rx="6.5" fill="url(#sD2)" stroke="#000" stroke-width="3"/>
<rect x="1390.00" y="1150.85" width="34.4" height="34.4" rx="6.5" fill="url(#sV)" stroke="#000" stroke-width="3"/>
<rect x="1440.50" y="1150.85" width="34.4" height="34.4" rx="6.5" fill="url(#sH)" stroke="#000" stroke-width="3"/>
<rect x="1269.30" y="1214.70" width="223.50" height="52.50" rx="11" fill="#FFE699" stroke="#FFD966" stroke-width="4"/>
<rect x="1289.00" y="1223.75" width="34.4" height="34.4" rx="6.5" fill="url(#sV)" stroke="#000" stroke-width="3"/>
<rect x="1339.50" y="1223.75" width="34.4" height="34.4" rx="6.5" fill="url(#sD1)" stroke="#000" stroke-width="3"/>
<rect x="1390.00" y="1223.75" width="34.4" height="34.4" rx="6.5" fill="url(#sD2)" stroke="#000" stroke-width="3"/>
<rect x="1440.50" y="1223.75" width="34.4" height="34.4" rx="6.5" fill="url(#sH)" stroke="#000" stroke-width="3"/>
<rect x="1269.30" y="1288.30" width="223.50" height="52.70" rx="11" fill="#FFE699" stroke="#FFD966" stroke-width="4"/>
<rect x="1287.50" y="1297.45" width="34.4" height="34.4" rx="6.5" fill="url(#sD2)" stroke="#000" stroke-width="3"/>
<rect x="1338.00" y="1297.45" width="34.4" height="34.4" rx="6.5" fill="url(#sH)" stroke="#000" stroke-width="3"/>
<rect x="1388.50" y="1297.45" width="34.4" height="34.4" rx="6.5" fill="url(#sD1)" stroke="#000" stroke-width="3"/>
<rect x="1439.00" y="1297.45" width="34.4" height="34.4" rx="6.5" fill="url(#sV)" stroke="#000" stroke-width="3"/>
<path d="M1102 1192.9H1212.8V1188.8L1225.3 1195L1212.8 1201.2V1197.1H1102z" fill="#000"/>
<text x="1155" y="1178" font-family='"Liberation Serif", serif' font-style="italic" font-size="25" fill="#000">h<tspan dy="5" dx="1" font-size="16.5" font-weight="bold">θ</tspan></text>
<text x="1163.70" y="1230.30" font-size="20.20" text-anchor="middle" font-family='"Liberation Serif", serif' font-weight="normal" fill="#000"  stroke="#000" stroke-width="0.3">Identification up to</text>
<text x="1163.60" y="1255.80" font-size="20.20" text-anchor="middle" font-family='"Liberation Serif", serif' font-weight="bold" fill="#C00000"  stroke="#C00000" stroke-width="0.3">linear transformation</text>
<text x="1380.4" y="1367.2" text-anchor="middle" font-family='"Liberation Serif", serif' font-size="20.2" fill="#000" stroke="#000" stroke-width="0.3">Recover <tspan font-weight="bold">h</tspan></text>
<text x="892.60" y="1025.80" font-size="20.20" text-anchor="middle" font-family='"Liberation Serif", serif' font-weight="bold" fill="#000"  stroke="#000" stroke-width="0.3">Observations x</text>
<rect x="750.00" y="1067.70" width="278.70" height="53.80" rx="11" fill="#BDD7EE" stroke="#9DC3E6" stroke-width="4"/>
<circle cx="785.2" cy="1095.0" r="17.5" fill="url(#gBR)" stroke="#000" stroke-width="2.8"/>
<circle cx="838.7" cy="1095.0" r="17.5" fill="url(#gC)" stroke="#000" stroke-width="2.8"/>
<circle cx="890.5" cy="1095.0" r="17.5" fill="url(#gTL)" stroke="#000" stroke-width="2.8"/>
<circle cx="990.8" cy="1095.0" r="17.5" fill="url(#mTR)" stroke="#000" stroke-width="2.8"/>
<circle cx="924" cy="1095.8" r="3.4" fill="#000"/>
<circle cx="940.5" cy="1095.8" r="3.4" fill="#000"/>
<circle cx="956.7" cy="1095.8" r="3.4" fill="#000"/>
<rect x="751.00" y="1141.70" width="280.00" height="53.20" rx="11" fill="#BDD7EE" stroke="#9DC3E6" stroke-width="4"/>
<circle cx="786.5" cy="1168.4" r="17.5" fill="url(#gC)" stroke="#000" stroke-width="2.8"/>
<circle cx="840.2" cy="1168.4" r="17.5" fill="url(#gTL)" stroke="#000" stroke-width="2.8"/>
<circle cx="892" cy="1168.4" r="17.5" fill="url(#gBR)" stroke="#000" stroke-width="2.8"/>
<circle cx="992.3" cy="1168.4" r="17.5" fill="url(#mBL)" stroke="#000" stroke-width="2.8"/>
<circle cx="925" cy="1169.2" r="3.4" fill="#000"/>
<circle cx="941.6" cy="1169.2" r="3.4" fill="#000"/>
<circle cx="957.6" cy="1169.2" r="3.4" fill="#000"/>
<rect x="752.20" y="1213.50" width="279.30" height="53.20" rx="11" fill="#BDD7EE" stroke="#9DC3E6" stroke-width="4"/>
<circle cx="787.5" cy="1240.7" r="17.5" fill="url(#gTL)" stroke="#000" stroke-width="2.8"/>
<circle cx="840.8" cy="1240.7" r="17.5" fill="url(#gTR)" stroke="#000" stroke-width="2.8"/>
<circle cx="892.6" cy="1240.7" r="17.5" fill="url(#gBL)" stroke="#000" stroke-width="2.8"/>
<circle cx="993" cy="1240.7" r="17.5" fill="url(#mC)" stroke="#000" stroke-width="2.8"/>
<circle cx="926" cy="1241.5" r="3.4" fill="#000"/>
<circle cx="942.6" cy="1241.5" r="3.4" fill="#000"/>
<circle cx="958.6" cy="1241.5" r="3.4" fill="#000"/>
<rect x="750.00" y="1287.40" width="278.70" height="53.10" rx="11" fill="#BDD7EE" stroke="#9DC3E6" stroke-width="4"/>
<circle cx="785.2" cy="1314.0" r="17.5" fill="url(#gBL)" stroke="#000" stroke-width="2.8"/>
<circle cx="838.7" cy="1314.0" r="17.5" fill="url(#gBR)" stroke="#000" stroke-width="2.8"/>
<circle cx="890.5" cy="1314.0" r="17.5" fill="url(#gC)" stroke="#000" stroke-width="2.8"/>
<circle cx="990.8" cy="1314.0" r="17.5" fill="url(#mTL)" stroke="#000" stroke-width="2.8"/>
<circle cx="924" cy="1314.8" r="3.4" fill="#000"/>
<circle cx="940.5" cy="1314.8" r="3.4" fill="#000"/>
<circle cx="956.7" cy="1314.8" r="3.4" fill="#000"/>
<text x="611.00" y="1019.80" font-size="20.10" text-anchor="middle" font-family='"Liberation Serif", serif' font-weight="bold" fill="#000"  stroke="#000" stroke-width="0.3">Unknown data</text>
<text x="611.00" y="1044.80" font-size="20.10" text-anchor="middle" font-family='"Liberation Serif", serif' font-weight="bold" fill="#000"  stroke="#000" stroke-width="0.3">generation mechanism</text>
<path d="M499 1054.9499999999998H704.6V1051.1L717 1057.1L704.6 1063.1V1059.25H499z" fill="#000"/>
<rect x="502.00" y="1133.80" width="210.80" height="54.90" rx="11" fill="#F8CBAD" stroke="#F4B183" stroke-width="4"/>
<rect x="501.00" y="1236.50" width="211.80" height="42.00" rx="11" fill="#BDD7EE" stroke="#9DC3E6" stroke-width="4"/>
<defs><marker id="ah" viewBox="0 0 10 8" refX="9.5" refY="4" markerWidth="11" markerHeight="9" markerUnits="userSpaceOnUse" orient="auto"><path d="M0 0L10 4L0 8z" fill="#000"/></marker><marker id="ahd" viewBox="0 0 10 8" refX="9.5" refY="4" markerWidth="11" markerHeight="8.8" markerUnits="userSpaceOnUse" orient="auto"><path d="M0 0L10 4L0 8z" fill="#000"/></marker></defs>
<line x1="527.3" y1="1180.5" x2="533.0" y2="1246.5" stroke="#000" stroke-width="2.0" marker-end="url(#ah)"/>
<line x1="528.5" y1="1180.5" x2="607.2" y2="1246.5" stroke="#000" stroke-width="2.0" marker-end="url(#ah)"/>
<line x1="578.2" y1="1180.5" x2="572.9" y2="1246.5" stroke="#000" stroke-width="2.0" marker-end="url(#ah)"/>
<line x1="579.5" y1="1180.5" x2="608.6" y2="1246.5" stroke="#000" stroke-width="2.0" marker-end="url(#ah)"/>
<line x1="581" y1="1180.5" x2="677.6" y2="1246.5" stroke="#000" stroke-width="2.0" marker-end="url(#ah)"/>
<line x1="624.6" y1="1180.5" x2="537.5" y2="1246.5" stroke="#000" stroke-width="2.0" marker-end="url(#ah)"/>
<line x1="641.6" y1="1180.5" x2="679.2" y2="1246.5" stroke="#000" stroke-width="2.0" marker-end="url(#ah)"/>
<line x1="683.6" y1="1180.5" x2="577.8" y2="1246.5" stroke="#000" stroke-width="2.0" marker-end="url(#ah)"/>
<line x1="684.6" y1="1180.5" x2="612.2" y2="1246.5" stroke="#000" stroke-width="2.0" marker-end="url(#ah)"/>
<line x1="687" y1="1180.5" x2="681.8" y2="1246.5" stroke="#000" stroke-width="2.0" marker-end="url(#ah)"/>
<polygon points="518.80,1144.20 536.80,1144.20 536.80,1152.50 545.10,1152.50 545.10,1170.50 536.80,1170.50 536.80,1178.80 518.80,1178.80 518.80,1170.50 510.50,1170.50 510.50,1152.50 518.80,1152.50" fill="#D9D9D9" stroke="#000" stroke-width="2.6" stroke-linejoin="miter"/>
<polygon points="570.05,1144.20 587.35,1144.20 596.40,1178.80 561.00,1178.80" fill="#262626" stroke="#000" stroke-width="2.6" stroke-linejoin="miter"/>
<polygon points="626.63,1144.20 640.97,1144.20 651.10,1154.33 651.10,1168.67 640.97,1178.80 626.63,1178.80 616.50,1168.67 616.50,1154.33" fill="#262626" stroke="#000" stroke-width="2.6" stroke-linejoin="miter"/>
<polygon points="688.10,1144.20 704.88,1157.42 698.47,1178.80 677.73,1178.80 671.32,1157.42" fill="#D9D9D9" stroke="#000" stroke-width="2.6" stroke-linejoin="miter"/>
<line x1="578.8" y1="1143.5" x2="598.4" y2="1107.8" stroke="#000" stroke-width="2.0" marker-end="url(#ah)"/>
<line x1="626.4" y1="1143.5" x2="612.4" y2="1106.8" stroke="#000" stroke-width="2.0" marker-end="url(#ah)"/>
<line x1="594.5" y1="1099.2" x2="530.5" y2="1143.2" stroke="#000" stroke-width="2.8" stroke-dasharray="11 6" marker-end="url(#ahd)"/>
<line x1="617.0" y1="1098.6" x2="686.0" y2="1142.6" stroke="#000" stroke-width="2.8" stroke-dasharray="11 6" marker-end="url(#ahd)"/>
<polygon points="605.5,1065.8 624.6,1088.2 605.5,1110.5 586.8,1088.2" fill="#fff" stroke="#000" stroke-width="3"/>
<text x="605.30" y="1093.00" font-size="22.00" text-anchor="middle" font-family='"Liberation Serif", serif' font-weight="normal" fill="#000"  stroke="#000" stroke-width="0.3">y</text>
<circle cx="533.6" cy="1259.5" r="12.2" fill="url(#gBR)" stroke="#000" stroke-width="2.4"/>
<circle cx="572" cy="1259.5" r="12.2" fill="url(#gC)" stroke="#000" stroke-width="2.4"/>
<circle cx="609.5" cy="1259.5" r="12.2" fill="url(#gTL)" stroke="#000" stroke-width="2.4"/>
<circle cx="681.3" cy="1259.5" r="12.2" fill="url(#mTR)" stroke="#000" stroke-width="2.4"/>
<circle cx="632" cy="1259.8" r="2.6" fill="#000"/>
<circle cx="644.6" cy="1259.8" r="2.6" fill="#000"/>
<circle cx="656.8" cy="1259.8" r="2.6" fill="#000"/>
<circle cx="566.6" cy="1305" r="11.3" fill="#262626"/>
<circle cx="566.6" cy="1344.6" r="11.3" fill="#D9D9D9"/>
<text x="592.50" y="1311.80" font-size="20.00" text-anchor="start" font-family='"Liberation Serif", serif' font-weight="normal" fill="#000"  stroke="#000" stroke-width="0.3">Causal</text>
<text x="592.50" y="1351.00" font-size="20.00" text-anchor="start" font-family='"Liberation Serif", serif' font-weight="normal" fill="#000"  stroke="#000" stroke-width="0.3">Spurious</text>
<defs><marker id="la" viewBox="0 0 10 8" refX="9.6" refY="4" markerWidth="9.5" markerHeight="7" markerUnits="userSpaceOnUse" orient="auto"><path d="M0 0.2L10 4L0 7.8Q2.2 4 0 0.2z" fill="#111"/></marker></defs>
<line x1="1784.3" y1="1660.7" x2="1746.7" y2="1697.8" stroke="#111" stroke-width="1.35" marker-end="url(#la)"/>
<line x1="1804.4" y1="1667.4" x2="1804.4" y2="1690.3" stroke="#111" stroke-width="1.35" marker-end="url(#la)"/>
<line x1="1862.7" y1="1698.6" x2="1824.7" y2="1661.0" stroke="#111" stroke-width="1.35" marker-end="url(#la)"/>
<line x1="1856.6" y1="1714.6" x2="1829.0" y2="1714.6" stroke="#111" stroke-width="1.35" marker-end="url(#la)"/>
<line x1="1804.4" y1="1737.6" x2="1804.4" y2="1761.0" stroke="#111" stroke-width="1.35" marker-end="url(#la)"/>
<line x1="1862.7" y1="1731.2" x2="1824.2" y2="1768.5" stroke="#111" stroke-width="1.35" marker-end="url(#la)"/>
<line x1="1784.7" y1="1769.2" x2="1746.7" y2="1731.6" stroke="#111" stroke-width="1.35" marker-end="url(#la)"/>
<circle cx="1804.4" cy="1640.1" r="26.6" fill="#fff" stroke="#1a1a1a" stroke-width="1.3"/>
<circle cx="1730.4" cy="1714.6" r="21.6" fill="#D9D9D9" stroke="#1a1a1a" stroke-width="1.3"/>
<circle cx="1804.2" cy="1714.6" r="22.4" fill="#D9D9D9" stroke="#1a1a1a" stroke-width="1.3"/>
<circle cx="1878.6" cy="1714.6" r="21.0" fill="#D9D9D9" stroke="#1a1a1a" stroke-width="1.3"/>
<circle cx="1804.4" cy="1788.6" r="26.4" fill="#fff" stroke="#1a1a1a" stroke-width="1.3"/>
<text x="1792.5" y="1647" font-family='"Liberation Serif", serif' font-weight="bold" font-size="27" fill="#111">z<tspan dy="4" font-size="17.5">c</tspan></text>
<text x="1792.8" y="1795.5" font-family='"Liberation Serif", serif' font-weight="bold" font-size="27" fill="#111">z<tspan dy="4" font-size="17.5">s</tspan></text>
<text x="1730.40" y="1723.00" font-size="28.00" text-anchor="middle" font-family='"Liberation Serif", serif' font-weight="bold" fill="#111"  stroke="#111" stroke-width="0.3">x</text>
<text x="1804.6" y="1720" text-anchor="middle" font-family='"Liberation Serif", serif' font-style="italic" font-size="29" fill="#222">y</text>
<text x="1878.8" y="1723.5" text-anchor="middle" font-family='"Liberation Serif", serif' font-style="italic" font-size="31" fill="#222">t</text>
<path d="M166.9 2074.8V2268.4M227.3 2074.8V2268.4M287.8 2074.8V2268.4M348.2 2074.8V2268.4M408.6 2074.8V2268.4M137.1 2081.5H439.2M137.1 2119.9H439.2M137.1 2158.6H439.2M137.1 2197.1H439.2M137.1 2235.8H439.2" stroke="#dcdcdc" stroke-width="1.3" fill="none"/>
<path d="M137.1 2074.8V2268.4H439.2" stroke="#d0d0d0" stroke-width="1.4" fill="none"/>
<text x="130.60" y="2085.50" font-size="11.20" text-anchor="end" font-family='"Liberation Sans", sans-serif' font-weight="normal" fill="#262626" >1.000</text>
<text x="130.60" y="2123.90" font-size="11.20" text-anchor="end" font-family='"Liberation Sans", sans-serif' font-weight="normal" fill="#262626" >0.995</text>
<text x="130.60" y="2162.60" font-size="11.20" text-anchor="end" font-family='"Liberation Sans", sans-serif' font-weight="normal" fill="#262626" >0.990</text>
<text x="130.60" y="2201.10" font-size="11.20" text-anchor="end" font-family='"Liberation Sans", sans-serif' font-weight="normal" fill="#262626" >0.985</text>
<text x="130.60" y="2239.80" font-size="11.20" text-anchor="end" font-family='"Liberation Sans", sans-serif' font-weight="normal" fill="#262626" >0.980</text>
<text x="166.90" y="2282.70" font-size="11.20" text-anchor="middle" font-family='"Liberation Sans", sans-serif' font-weight="normal" fill="#262626" >3</text>
<text x="227.30" y="2282.70" font-size="11.20" text-anchor="middle" font-family='"Liberation Sans", sans-serif' font-weight="normal" fill="#262626" >5</text>
<text x="287.80" y="2282.70" font-size="11.20" text-anchor="middle" font-family='"Liberation Sans", sans-serif' font-weight="normal" fill="#262626" >10</text>
<text x="348.20" y="2282.70" font-size="11.20" text-anchor="middle" font-family='"Liberation Sans", sans-serif' font-weight="normal" fill="#262626" >20</text>
<text x="408.60" y="2282.70" font-size="11.20" text-anchor="middle" font-family='"Liberation Sans", sans-serif' font-weight="normal" fill="#262626" >50</text>
<text x="287.80" y="2297.40" font-size="13.60" text-anchor="middle" font-family='"Liberation Sans", sans-serif' font-weight="normal" fill="#262626" >Latent Dimension</text>
<text transform="translate(97,2172.2) rotate(-90)" text-anchor="middle" font-family='"Liberation Sans", sans-serif' font-size="13.6" fill="#262626">MCC</text>
<path d="M166.9 2084.0V2086.0M160.3 2084.0H173.5M160.3 2086.0H173.5" stroke="#111" stroke-width="1.5" fill="none"/><circle cx="166.9" cy="2084.9" r="2.7" fill="#111"/>
<path d="M227.3 2083.8V2086.0M220.7 2083.8H233.9M220.7 2086.0H233.9" stroke="#111" stroke-width="1.5" fill="none"/><circle cx="227.3" cy="2084.9" r="2.7" fill="#111"/>
<path d="M227.3 2083.5V2086.5M220.7 2083.5H233.9M220.7 2086.5H233.9" stroke="#c8444a" stroke-width="1.5" fill="none"/><circle cx="227.3" cy="2084.9" r="2.7" fill="#c8444a"/>
<path d="M287.8 2085.2V2124.6M281.2 2085.2H294.4M281.2 2124.6H294.4" stroke="#111" stroke-width="1.5" fill="none"/><circle cx="287.8" cy="2099.0" r="2.7" fill="#111"/>
<path d="M287.8 2085.2V2136.4M281.2 2085.2H294.4M281.2 2136.4H294.4" stroke="#c8444a" stroke-width="1.5" fill="none"/><circle cx="287.8" cy="2103.6" r="2.7" fill="#c8444a"/>
<path d="M348.2 2090.3V2130.3M341.6 2090.3H354.8M341.6 2130.3H354.8" stroke="#111" stroke-width="1.5" fill="none"/><circle cx="348.2" cy="2104.4" r="2.7" fill="#111"/>
<path d="M348.2 2090.3V2174.7M341.6 2090.3H354.8M341.6 2174.7H354.8" stroke="#c8444a" stroke-width="1.5" fill="none"/><circle cx="348.2" cy="2119.4" r="2.7" fill="#c8444a"/>
<path d="M408.6 2103.4V2259.8M402.0 2103.4H415.2M402.0 2259.8H415.2" stroke="#111" stroke-width="1.5" fill="none"/><circle cx="408.6" cy="2161.1" r="2.7" fill="#111"/>
<path d="M408.6 2111.3V2182.6M402.0 2111.3H415.2M402.0 2182.6H415.2" stroke="#c8444a" stroke-width="1.5" fill="none"/><circle cx="408.6" cy="2147.5" r="2.7" fill="#c8444a"/>
<rect x="143.6" y="2204.6" width="169.6" height="57.4" rx="3" fill="#fff" fill-opacity="0.8" stroke="#d6d6d6" stroke-width="1.1"/>
<text x="148.40" y="2219.20" font-size="13.60" text-anchor="start" font-family='"Liberation Sans", sans-serif' font-weight="normal" fill="#262626" >Number of causal features</text>
<circle cx="219.7" cy="2233.9" r="2.6" fill="#000"/><circle cx="219.7" cy="2251.6" r="2.6" fill="#c8444a"/>
<text x="241.90" y="2238.00" font-size="12.40" text-anchor="start" font-family='"Liberation Sans", sans-serif' font-weight="normal" fill="#262626" >2</text>
<text x="241.90" y="2255.60" font-size="12.40" text-anchor="start" font-family='"Liberation Sans", sans-serif' font-weight="normal" fill="#262626" >4</text>
<path d="M589.6 2100.0V2262.4M651.4 2100.0V2262.4M713.2 2100.0V2262.4M775.0 2100.0V2262.4M836.5 2100.0V2262.4M558.6 2107.7H867.8M558.6 2139.1H867.8M558.6 2170.6H867.8M558.6 2202.0H867.8M558.6 2233.5H867.8" stroke="#dcdcdc" stroke-width="1.3" fill="none"/>
<path d="M558.6 2100.0V2262.4H867.8" stroke="#d0d0d0" stroke-width="1.4" fill="none"/>
<text x="553.40" y="2111.40" font-size="10.30" text-anchor="end" font-family='"Liberation Sans", sans-serif' font-weight="normal" fill="#262626" >1.0</text>
<text x="553.40" y="2142.85" font-size="10.30" text-anchor="end" font-family='"Liberation Sans", sans-serif' font-weight="normal" fill="#262626" >0.9</text>
<text x="553.40" y="2174.30" font-size="10.30" text-anchor="end" font-family='"Liberation Sans", sans-serif' font-weight="normal" fill="#262626" >0.8</text>
<text x="553.40" y="2205.75" font-size="10.30" text-anchor="end" font-family='"Liberation Sans", sans-serif' font-weight="normal" fill="#262626" >0.7</text>
<text x="553.40" y="2237.20" font-size="10.30" text-anchor="end" font-family='"Liberation Sans", sans-serif' font-weight="normal" fill="#262626" >0.6</text>
<text x="589.60" y="2275.20" font-size="10.30" text-anchor="middle" font-family='"Liberation Sans", sans-serif' font-weight="normal" fill="#262626" >3</text>
<text x="651.40" y="2275.20" font-size="10.30" text-anchor="middle" font-family='"Liberation Sans", sans-serif' font-weight="normal" fill="#262626" >5</text>
<text x="713.20" y="2275.20" font-size="10.30" text-anchor="middle" font-family='"Liberation Sans", sans-serif' font-weight="normal" fill="#262626" >10</text>
<text x="775.00" y="2275.20" font-size="10.30" text-anchor="middle" font-family='"Liberation Sans", sans-serif' font-weight="normal" fill="#262626" >20</text>
<text x="836.50" y="2275.20" font-size="10.30" text-anchor="middle" font-family='"Liberation Sans", sans-serif' font-weight="normal" fill="#262626" >50</text>
<text x="713.20" y="2288.50" font-size="12.30" text-anchor="middle" font-family='"Liberation Sans", sans-serif' font-weight="normal" fill="#262626" >Latent Dimension</text>
<text x="713.20" y="2096.50" font-size="12.30" text-anchor="middle" font-family='"Liberation Sans", sans-serif' font-weight="normal" fill="#262626" >Number of Causal Features = 2</text>
<text transform="translate(534.8,2181.3) rotate(-90)" text-anchor="middle" font-family='"Liberation Sans", sans-serif' font-size="12.3" fill="#262626">MCC</text>
<path d="M589.6 2107.4V2108.0M583.2 2107.4H596.0M583.2 2108.0H596.0" stroke="#000" stroke-width="1.35" fill="none"/><circle cx="589.6" cy="2107.7" r="2.4" fill="#000"/>
<path d="M589.6 2119.7V2173.1M583.2 2119.7H596.0M583.2 2173.1H596.0" stroke="#c8444a" stroke-width="1.35" fill="none"/><circle cx="589.6" cy="2146.4" r="2.4" fill="#c8444a"/>
<path d="M589.6 2148.6V2221.5M583.2 2148.6H596.0M583.2 2221.5H596.0" stroke="#4646c8" stroke-width="1.35" fill="none"/><circle cx="589.6" cy="2186.3" r="2.4" fill="#4646c8"/>
<path d="M589.6 2107.7V2184.8M583.2 2107.7H596.0M583.2 2184.8H596.0" stroke="#1f6420" stroke-width="1.35" fill="none"/><circle cx="589.6" cy="2133.5" r="2.4" fill="#1f6420"/>
<path d="M589.6 2149.5V2187.0M583.2 2149.5H596.0M583.2 2187.0H596.0" stroke="#c4c43c" stroke-width="1.35" fill="none"/><circle cx="589.6" cy="2167.5" r="2.4" fill="#c4c43c"/>
<path d="M651.4 2107.4V2108.0M645.0 2107.4H657.8M645.0 2108.0H657.8" stroke="#000" stroke-width="1.35" fill="none"/><circle cx="651.4" cy="2107.7" r="2.4" fill="#000"/>
<path d="M651.4 2172.2V2180.0M645.0 2172.2H657.8M645.0 2180.0H657.8" stroke="#c8444a" stroke-width="1.35" fill="none"/><circle cx="651.4" cy="2176.3" r="2.4" fill="#c8444a"/>
<path d="M651.4 2176.9V2202.0M645.0 2176.9H657.8M645.0 2202.0H657.8" stroke="#4646c8" stroke-width="1.35" fill="none"/><circle cx="651.4" cy="2187.9" r="2.4" fill="#4646c8"/>
<path d="M651.4 2114.0V2166.8M645.0 2114.0H657.8M645.0 2166.8H657.8" stroke="#1f6420" stroke-width="1.35" fill="none"/><circle cx="651.4" cy="2139.1" r="2.4" fill="#1f6420"/>
<path d="M651.4 2183.2V2215.6M645.0 2183.2H657.8M645.0 2215.6H657.8" stroke="#c4c43c" stroke-width="1.35" fill="none"/><circle cx="651.4" cy="2198.9" r="2.4" fill="#c4c43c"/>
<path d="M713.2 2107.7V2109.6M706.8 2107.7H719.6M706.8 2109.6H719.6" stroke="#000" stroke-width="1.35" fill="none"/><circle cx="713.2" cy="2108.6" r="2.4" fill="#000"/>
<path d="M713.2 2162.7V2169.7M706.8 2162.7H719.6M706.8 2169.7H719.6" stroke="#c8444a" stroke-width="1.35" fill="none"/><circle cx="713.2" cy="2166.5" r="2.4" fill="#c8444a"/>
<path d="M713.2 2181.6V2205.8M706.8 2181.6H719.6M706.8 2205.8H719.6" stroke="#4646c8" stroke-width="1.35" fill="none"/><circle cx="713.2" cy="2194.5" r="2.4" fill="#4646c8"/>
<path d="M713.2 2107.7V2109.0M706.8 2107.7H719.6M706.8 2109.0H719.6" stroke="#1f6420" stroke-width="1.35" fill="none"/><circle cx="713.2" cy="2108.3" r="2.4" fill="#1f6420"/>
<path d="M713.2 2180.0V2185.7M706.8 2180.0H719.6M706.8 2185.7H719.6" stroke="#c4c43c" stroke-width="1.35" fill="none"/><circle cx="713.2" cy="2183.2" r="2.4" fill="#c4c43c"/>
<path d="M775.0 2108.3V2110.2M768.6 2108.3H781.4M768.6 2110.2H781.4" stroke="#000" stroke-width="1.35" fill="none"/><circle cx="775.0" cy="2109.3" r="2.4" fill="#000"/>
<path d="M775.0 2161.2V2164.9M768.6 2161.2H781.4M768.6 2164.9H781.4" stroke="#c8444a" stroke-width="1.35" fill="none"/><circle cx="775.0" cy="2163.1" r="2.4" fill="#c8444a"/>
<path d="M775.0 2168.7V2175.0M768.6 2168.7H781.4M768.6 2175.0H781.4" stroke="#4646c8" stroke-width="1.35" fill="none"/><circle cx="775.0" cy="2172.2" r="2.4" fill="#4646c8"/>
<path d="M775.0 2108.6V2123.7M768.6 2108.6H781.4M768.6 2123.7H781.4" stroke="#1f6420" stroke-width="1.35" fill="none"/><circle cx="775.0" cy="2114.6" r="2.4" fill="#1f6420"/>
<path d="M775.0 2168.1V2178.8M768.6 2168.1H781.4M768.6 2178.8H781.4" stroke="#c4c43c" stroke-width="1.35" fill="none"/><circle cx="775.0" cy="2173.1" r="2.4" fill="#c4c43c"/>
<path d="M836.5 2108.3V2114.6M830.1 2108.3H842.9M830.1 2114.6H842.9" stroke="#000" stroke-width="1.35" fill="none"/><circle cx="836.5" cy="2111.2" r="2.4" fill="#000"/>
<path d="M836.5 2162.7V2165.3M830.1 2162.7H842.9M830.1 2165.3H842.9" stroke="#c8444a" stroke-width="1.35" fill="none"/><circle cx="836.5" cy="2164.3" r="2.4" fill="#c8444a"/>
<path d="M836.5 2164.9V2175.6M830.1 2164.9H842.9M830.1 2175.6H842.9" stroke="#4646c8" stroke-width="1.35" fill="none"/><circle cx="836.5" cy="2170.6" r="2.4" fill="#4646c8"/>
<path d="M836.5 2119.7V2154.9M830.1 2119.7H842.9M830.1 2154.9H842.9" stroke="#1f6420" stroke-width="1.35" fill="none"/><circle cx="836.5" cy="2137.6" r="2.4" fill="#1f6420"/>
<path d="M836.5 2163.1V2171.5M830.1 2163.1H842.9M830.1 2171.5H842.9" stroke="#c4c43c" stroke-width="1.35" fill="none"/><circle cx="836.5" cy="2167.5" r="2.4" fill="#c4c43c"/>
<path d="M919.1 2100.0V2262.6M996.2 2100.0V2262.6M1073.5 2100.0V2262.6M1150.3 2100.0V2262.6M880.9 2107.7H1189.6M880.9 2139.1H1189.6M880.9 2170.6H1189.6M880.9 2202.0H1189.6M880.9 2233.5H1189.6" stroke="#dcdcdc" stroke-width="1.3" fill="none"/>
<path d="M880.9 2100.0V2262.6H1189.6" stroke="#d0d0d0" stroke-width="1.4" fill="none"/>
<text x="919.10" y="2275.20" font-size="10.30" text-anchor="middle" font-family='"Liberation Sans", sans-serif' font-weight="normal" fill="#262626" >5</text>
<text x="996.20" y="2275.20" font-size="10.30" text-anchor="middle" font-family='"Liberation Sans", sans-serif' font-weight="normal" fill="#262626" >10</text>
<text x="1073.50" y="2275.20" font-size="10.30" text-anchor="middle" font-family='"Liberation Sans", sans-serif' font-weight="normal" fill="#262626" >20</text>
<text x="1150.30" y="2275.20" font-size="10.30" text-anchor="middle" font-family='"Liberation Sans", sans-serif' font-weight="normal" fill="#262626" >50</text>
<text x="1034.40" y="2288.50" font-size="12.30" text-anchor="middle" font-family='"Liberation Sans", sans-serif' font-weight="normal" fill="#262626" >Latent Dimension</text>
<text x="1034.40" y="2096.50" font-size="12.30" text-anchor="middle" font-family='"Liberation Sans", sans-serif' font-weight="normal" fill="#262626" >Number of Causal Features = 4</text>
<path d="M919.1 2107.4V2108.0M911.0 2107.4H927.2M911.0 2108.0H927.2" stroke="#000" stroke-width="1.35" fill="none"/><circle cx="919.1" cy="2107.7" r="2.4" fill="#000"/>
<path d="M919.1 2149.2V2181.3M911.0 2149.2H927.2M911.0 2181.3H927.2" stroke="#c8444a" stroke-width="1.35" fill="none"/><circle cx="919.1" cy="2165.3" r="2.4" fill="#c8444a"/>
<path d="M919.1 2204.3V2218.4M911.0 2204.3H927.2M911.0 2218.4H927.2" stroke="#4646c8" stroke-width="1.35" fill="none"/><circle cx="919.1" cy="2211.5" r="2.4" fill="#4646c8"/>
<path d="M919.1 2139.8V2224.1M911.0 2139.8H927.2M911.0 2224.1H927.2" stroke="#1f6420" stroke-width="1.35" fill="none"/><circle cx="919.1" cy="2182.6" r="2.4" fill="#1f6420"/>
<path d="M919.1 2208.3V2255.2M911.0 2208.3H927.2M911.0 2255.2H927.2" stroke="#c4c43c" stroke-width="1.35" fill="none"/><circle cx="919.1" cy="2228.5" r="2.4" fill="#c4c43c"/>
<path d="M996.2 2107.7V2110.2M988.1 2107.7H1004.3M988.1 2110.2H1004.3" stroke="#000" stroke-width="1.35" fill="none"/><circle cx="996.2" cy="2109.0" r="2.4" fill="#000"/>
<path d="M996.2 2187.3V2190.7M988.1 2187.3H1004.3M988.1 2190.7H1004.3" stroke="#c8444a" stroke-width="1.35" fill="none"/><circle cx="996.2" cy="2188.5" r="2.4" fill="#c8444a"/>
<path d="M996.2 2198.9V2233.5M988.1 2198.9H1004.3M988.1 2233.5H1004.3" stroke="#4646c8" stroke-width="1.35" fill="none"/><circle cx="996.2" cy="2214.6" r="2.4" fill="#4646c8"/>
<path d="M996.2 2168.1V2192.0M988.1 2168.1H1004.3M988.1 2192.0H1004.3" stroke="#1f6420" stroke-width="1.35" fill="none"/><circle cx="996.2" cy="2181.9" r="2.4" fill="#1f6420"/>
<path d="M996.2 2214.0V2225.6M988.1 2214.0H1004.3M988.1 2225.6H1004.3" stroke="#c4c43c" stroke-width="1.35" fill="none"/><circle cx="996.2" cy="2220.9" r="2.4" fill="#c4c43c"/>
<path d="M1073.5 2108.3V2111.5M1065.4 2108.3H1081.6M1065.4 2111.5H1081.6" stroke="#000" stroke-width="1.35" fill="none"/><circle cx="1073.5" cy="2109.9" r="2.4" fill="#000"/>
<path d="M1073.5 2177.2V2179.4M1065.4 2177.2H1081.6M1065.4 2179.4H1081.6" stroke="#c8444a" stroke-width="1.35" fill="none"/><circle cx="1073.5" cy="2178.5" r="2.4" fill="#c8444a"/>
<path d="M1073.5 2190.4V2207.7M1065.4 2190.4H1081.6M1065.4 2207.7H1081.6" stroke="#4646c8" stroke-width="1.35" fill="none"/><circle cx="1073.5" cy="2197.0" r="2.4" fill="#4646c8"/>
<path d="M1073.5 2107.7V2118.1M1065.4 2107.7H1081.6M1065.4 2118.1H1081.6" stroke="#1f6420" stroke-width="1.35" fill="none"/><circle cx="1073.5" cy="2112.4" r="2.4" fill="#1f6420"/>
<path d="M1073.5 2185.1V2205.2M1065.4 2185.1H1081.6M1065.4 2205.2H1081.6" stroke="#c4c43c" stroke-width="1.35" fill="none"/><circle cx="1073.5" cy="2193.9" r="2.4" fill="#c4c43c"/>
<path d="M1150.3 2108.6V2112.4M1142.2 2108.6H1158.4M1142.2 2112.4H1158.4" stroke="#000" stroke-width="1.35" fill="none"/><circle cx="1150.3" cy="2110.2" r="2.4" fill="#000"/>
<path d="M1150.3 2169.7V2172.5M1142.2 2169.7H1158.4M1142.2 2172.5H1158.4" stroke="#c8444a" stroke-width="1.35" fill="none"/><circle cx="1150.3" cy="2171.2" r="2.4" fill="#c8444a"/>
<path d="M1150.3 2171.5V2178.5M1142.2 2171.5H1158.4M1142.2 2178.5H1158.4" stroke="#4646c8" stroke-width="1.35" fill="none"/><circle cx="1150.3" cy="2173.7" r="2.4" fill="#4646c8"/>
<path d="M1150.3 2114.0V2140.7M1142.2 2114.0H1158.4M1142.2 2140.7H1158.4" stroke="#1f6420" stroke-width="1.35" fill="none"/><circle cx="1150.3" cy="2125.0" r="2.4" fill="#1f6420"/>
<path d="M1150.3 2170.0V2175.3M1142.2 2170.0H1158.4M1142.2 2175.3H1158.4" stroke="#c4c43c" stroke-width="1.35" fill="none"/><circle cx="1150.3" cy="2172.2" r="2.4" fill="#c4c43c"/>
<text x="1216.20" y="2152.30" font-size="12.30" text-anchor="start" font-family='"Liberation Sans", sans-serif' font-weight="normal" fill="#262626" >Method</text>
<circle cx="1206.7" cy="2165.7" r="2.2" fill="#000"/>
<text x="1227.60" y="2169.00" font-size="11.20" text-anchor="start" font-family='"Liberation Sans", sans-serif' font-weight="normal" fill="#262626" >MTLCM</text>
<circle cx="1206.7" cy="2181.8" r="2.2" fill="#c8444a"/>
<text x="1227.60" y="2185.15" font-size="11.20" text-anchor="start" font-family='"Liberation Sans", sans-serif' font-weight="normal" fill="#262626" >iVAE</text>
<circle cx="1206.7" cy="2198.0" r="2.2" fill="#4646c8"/>
<text x="1227.60" y="2201.30" font-size="11.20" text-anchor="start" font-family='"Liberation Sans", sans-serif' font-weight="normal" fill="#262626" >iCaRL</text>
<circle cx="1206.7" cy="2214.1" r="2.2" fill="#1f6420"/>
<text x="1227.60" y="2217.45" font-size="11.20" text-anchor="start" font-family='"Liberation Sans", sans-serif' font-weight="normal" fill="#262626" >MT-iVAE</text>
<circle cx="1206.7" cy="2230.3" r="2.2" fill="#c4c43c"/>
<text x="1227.60" y="2233.60" font-size="11.20" text-anchor="start" font-family='"Liberation Sans", sans-serif' font-weight="normal" fill="#262626" >MT-iCaRL</text>
<path d="M165.3 2440.3V2613.7M249.2 2440.3V2613.7M333.4 2440.3V2613.7M417.3 2440.3V2613.7M123.1 2444.9H459.8M123.1 2476.7H459.8M123.1 2508.6H459.8M123.1 2540.4H459.8M123.1 2572.3H459.8M123.1 2604.1H459.8" stroke="#dcdcdc" stroke-width="1.3" fill="none"/>
<path d="M123.1 2440.3V2613.7H459.8" stroke="#d0d0d0" stroke-width="1.4" fill="none"/>
<text x="117.40" y="2448.90" font-size="11.10" text-anchor="end" font-family='"Liberation Sans", sans-serif' font-weight="normal" fill="#262626" >1.0</text>
<text x="117.40" y="2480.74" font-size="11.10" text-anchor="end" font-family='"Liberation Sans", sans-serif' font-weight="normal" fill="#262626" >0.9</text>
<text x="117.40" y="2512.58" font-size="11.10" text-anchor="end" font-family='"Liberation Sans", sans-serif' font-weight="normal" fill="#262626" >0.8</text>
<text x="117.40" y="2544.42" font-size="11.10" text-anchor="end" font-family='"Liberation Sans", sans-serif' font-weight="normal" fill="#262626" >0.7</text>
<text x="117.40" y="2576.26" font-size="11.10" text-anchor="end" font-family='"Liberation Sans", sans-serif' font-weight="normal" fill="#262626" >0.6</text>
<text x="117.40" y="2608.10" font-size="11.10" text-anchor="end" font-family='"Liberation Sans", sans-serif' font-weight="normal" fill="#262626" >0.5</text>
<text x="165.30" y="2627.40" font-size="11.10" text-anchor="middle" font-family='"Liberation Sans", sans-serif' font-weight="normal" fill="#262626" >20</text>
<text x="249.20" y="2627.40" font-size="11.10" text-anchor="middle" font-family='"Liberation Sans", sans-serif' font-weight="normal" fill="#262626" >50</text>
<text x="333.40" y="2627.40" font-size="11.10" text-anchor="middle" font-family='"Liberation Sans", sans-serif' font-weight="normal" fill="#262626" >100</text>
<text x="417.30" y="2627.40" font-size="11.10" text-anchor="middle" font-family='"Liberation Sans", sans-serif' font-weight="normal" fill="#262626" >200</text>
<text x="291.20" y="2641.70" font-size="13.65" text-anchor="middle" font-family='"Liberation Sans", sans-serif' font-weight="normal" fill="#262626" >Observation Dim</text>
<text x="291.20" y="2436.60" font-size="13.65" text-anchor="middle" font-family='"Liberation Sans", sans-serif' font-weight="normal" fill="#262626" >Number of Causal Features = 4</text>
<text transform="translate(97,2526.8) rotate(-90)" text-anchor="middle" font-family='"Liberation Sans", sans-serif' font-size="13.65" fill="#262626">MCC</text>
<path d="M165.3 2463.4V2472.6M156.6 2463.4H174.0M156.6 2472.6H174.0" stroke="#8c4a50" stroke-width="1.5" fill="none"/><circle cx="165.3" cy="2467.2" r="2.45" fill="#8c4a50"/>
<path d="M165.3 2458.6V2468.5M156.6 2458.6H174.0M156.6 2468.5H174.0" stroke="#000" stroke-width="1.5" fill="none"/><circle cx="165.3" cy="2462.4" r="2.45" fill="#000"/>
<path d="M165.3 2547.4V2555.7M156.6 2547.4H174.0M156.6 2555.7H174.0" stroke="#c8444a" stroke-width="1.5" fill="none"/><circle cx="165.3" cy="2550.6" r="2.45" fill="#c8444a"/>
<path d="M165.3 2556.3V2571.3M156.6 2556.3H174.0M156.6 2571.3H174.0" stroke="#4646c8" stroke-width="1.5" fill="none"/><circle cx="165.3" cy="2564.0" r="2.45" fill="#4646c8"/>
<path d="M165.3 2543.6V2554.7M156.6 2543.6H174.0M156.6 2554.7H174.0" stroke="#1f6420" stroke-width="1.5" fill="none"/><circle cx="165.3" cy="2549.3" r="2.45" fill="#1f6420"/>
<path d="M165.3 2560.2V2571.3M156.6 2560.2H174.0M156.6 2571.3H174.0" stroke="#c4c43c" stroke-width="1.5" fill="none"/><circle cx="165.3" cy="2565.9" r="2.45" fill="#c4c43c"/>
<path d="M249.2 2474.2V2482.8M240.5 2474.2H257.9M240.5 2482.8H257.9" stroke="#8c4a50" stroke-width="1.5" fill="none"/><circle cx="249.2" cy="2478.7" r="2.45" fill="#8c4a50"/>
<path d="M249.2 2461.5V2473.6M240.5 2461.5H257.9M240.5 2473.6H257.9" stroke="#000" stroke-width="1.5" fill="none"/><circle cx="249.2" cy="2466.2" r="2.45" fill="#000"/>
<path d="M249.2 2526.1V2537.2M240.5 2526.1H257.9M240.5 2537.2H257.9" stroke="#c8444a" stroke-width="1.5" fill="none"/><circle cx="249.2" cy="2530.9" r="2.45" fill="#c8444a"/>
<path d="M249.2 2537.9V2571.0M240.5 2537.9H257.9M240.5 2571.0H257.9" stroke="#4646c8" stroke-width="1.5" fill="none"/><circle cx="249.2" cy="2554.1" r="2.45" fill="#4646c8"/>
<path d="M249.2 2526.1V2543.0M240.5 2526.1H257.9M240.5 2543.0H257.9" stroke="#1f6420" stroke-width="1.5" fill="none"/><circle cx="249.2" cy="2534.1" r="2.45" fill="#1f6420"/>
<path d="M249.2 2536.6V2558.6M240.5 2536.6H257.9M240.5 2558.6H257.9" stroke="#c4c43c" stroke-width="1.5" fill="none"/><circle cx="249.2" cy="2548.4" r="2.45" fill="#c4c43c"/>
<path d="M333.4 2453.8V2463.0M324.7 2453.8H342.1M324.7 2463.0H342.1" stroke="#8c4a50" stroke-width="1.5" fill="none"/><circle cx="333.4" cy="2457.6" r="2.45" fill="#8c4a50"/>
<path d="M333.4 2449.0V2456.4M324.7 2449.0H342.1M324.7 2456.4H342.1" stroke="#000" stroke-width="1.5" fill="none"/><circle cx="333.4" cy="2451.9" r="2.45" fill="#000"/>
<path d="M333.4 2514.9V2518.1M324.7 2514.9H342.1M324.7 2518.1H342.1" stroke="#c8444a" stroke-width="1.5" fill="none"/><circle cx="333.4" cy="2516.5" r="2.45" fill="#c8444a"/>
<path d="M333.4 2535.6V2585.3M324.7 2535.6H342.1M324.7 2585.3H342.1" stroke="#4646c8" stroke-width="1.5" fill="none"/><circle cx="333.4" cy="2561.4" r="2.45" fill="#4646c8"/>
<path d="M333.4 2506.0V2510.5M324.7 2506.0H342.1M324.7 2510.5H342.1" stroke="#1f6420" stroke-width="1.5" fill="none"/><circle cx="333.4" cy="2508.6" r="2.45" fill="#1f6420"/>
<path d="M333.4 2522.3V2556.3M324.7 2522.3H342.1M324.7 2556.3H342.1" stroke="#c4c43c" stroke-width="1.5" fill="none"/><circle cx="333.4" cy="2539.5" r="2.45" fill="#c4c43c"/>
<path d="M417.3 2452.2V2461.8M408.6 2452.2H426.0M408.6 2461.8H426.0" stroke="#8c4a50" stroke-width="1.5" fill="none"/><circle cx="417.3" cy="2456.0" r="2.45" fill="#8c4a50"/>
<path d="M417.3 2449.7V2457.0M408.6 2449.7H426.0M408.6 2457.0H426.0" stroke="#000" stroke-width="1.5" fill="none"/><circle cx="417.3" cy="2454.5" r="2.45" fill="#000"/>
<path d="M417.3 2517.2V2520.4M408.6 2517.2H426.0M408.6 2520.4H426.0" stroke="#c8444a" stroke-width="1.5" fill="none"/><circle cx="417.3" cy="2518.8" r="2.45" fill="#c8444a"/>
<path d="M417.3 2558.6V2590.1M408.6 2558.6H426.0M408.6 2590.1H426.0" stroke="#4646c8" stroke-width="1.5" fill="none"/><circle cx="417.3" cy="2576.4" r="2.45" fill="#4646c8"/>
<path d="M417.3 2517.5V2546.8M408.6 2517.5H426.0M408.6 2546.8H426.0" stroke="#1f6420" stroke-width="1.5" fill="none"/><circle cx="417.3" cy="2527.7" r="2.45" fill="#1f6420"/>
<path d="M417.3 2550.9V2558.3M408.6 2550.9H426.0M408.6 2558.3H426.0" stroke="#c4c43c" stroke-width="1.5" fill="none"/><circle cx="417.3" cy="2554.7" r="2.45" fill="#c4c43c"/>
<path d="M515.6 2440.3V2613.7M599.8 2440.3V2613.7M683.7 2440.3V2613.7M767.9 2440.3V2613.7M473.4 2444.9H810.1M473.4 2476.7H810.1M473.4 2508.6H810.1M473.4 2540.4H810.1M473.4 2572.3H810.1M473.4 2604.1H810.1" stroke="#dcdcdc" stroke-width="1.3" fill="none"/>
<path d="M473.4 2440.3V2613.7H810.1" stroke="#d0d0d0" stroke-width="1.4" fill="none"/>
<text x="515.60" y="2627.40" font-size="11.10" text-anchor="middle" font-family='"Liberation Sans", sans-serif' font-weight="normal" fill="#262626" >20</text>
<text x="599.80" y="2627.40" font-size="11.10" text-anchor="middle" font-family='"Liberation Sans", sans-serif' font-weight="normal" fill="#262626" >50</text>
<text x="683.70" y="2627.40" font-size="11.10" text-anchor="middle" font-family='"Liberation Sans", sans-serif' font-weight="normal" fill="#262626" >100</text>
<text x="767.90" y="2627.40" font-size="11.10" text-anchor="middle" font-family='"Liberation Sans", sans-serif' font-weight="normal" fill="#262626" >200</text>
<text x="642.00" y="2641.70" font-size="13.65" text-anchor="middle" font-family='"Liberation Sans", sans-serif' font-weight="normal" fill="#262626" >Observation Dim</text>
<text x="642.00" y="2436.60" font-size="13.65" text-anchor="middle" font-family='"Liberation Sans", sans-serif' font-weight="normal" fill="#262626" >Number of Causal Features = 8</text>
<path d="M515.6 2459.2V2464.0M506.9 2459.2H524.3M506.9 2464.0H524.3" stroke="#8c4a50" stroke-width="1.5" fill="none"/><circle cx="515.6" cy="2461.8" r="2.45" fill="#8c4a50"/>
<path d="M515.6 2458.6V2464.0M506.9 2458.6H524.3M506.9 2464.0H524.3" stroke="#000" stroke-width="1.5" fill="none"/><circle cx="515.6" cy="2461.5" r="2.45" fill="#000"/>
<path d="M515.6 2578.0V2592.0M506.9 2578.0H524.3M506.9 2592.0H524.3" stroke="#c8444a" stroke-width="1.5" fill="none"/><circle cx="515.6" cy="2585.0" r="2.45" fill="#c8444a"/>
<path d="M515.6 2597.1V2598.4M506.9 2597.1H524.3M506.9 2598.4H524.3" stroke="#4646c8" stroke-width="1.5" fill="none"/><circle cx="515.6" cy="2597.7" r="2.45" fill="#4646c8"/>
<path d="M515.6 2588.8V2599.3M506.9 2588.8H524.3M506.9 2599.3H524.3" stroke="#1f6420" stroke-width="1.5" fill="none"/><circle cx="515.6" cy="2594.5" r="2.45" fill="#1f6420"/>
<path d="M515.6 2584.4V2588.8M506.9 2584.4H524.3M506.9 2588.8H524.3" stroke="#c4c43c" stroke-width="1.5" fill="none"/><circle cx="515.6" cy="2586.0" r="2.45" fill="#c4c43c"/>
<path d="M599.8 2461.5V2465.3M591.1 2461.5H608.5M591.1 2465.3H608.5" stroke="#8c4a50" stroke-width="1.5" fill="none"/><circle cx="599.8" cy="2463.4" r="2.45" fill="#8c4a50"/>
<path d="M599.8 2457.3V2460.5M591.1 2457.3H608.5M591.1 2460.5H608.5" stroke="#000" stroke-width="1.5" fill="none"/><circle cx="599.8" cy="2458.9" r="2.45" fill="#000"/>
<path d="M599.8 2550.6V2561.1M591.1 2550.6H608.5M591.1 2561.1H608.5" stroke="#c8444a" stroke-width="1.5" fill="none"/><circle cx="599.8" cy="2555.7" r="2.45" fill="#c8444a"/>
<path d="M599.8 2566.8V2593.0M591.1 2566.8H608.5M591.1 2593.0H608.5" stroke="#4646c8" stroke-width="1.5" fill="none"/><circle cx="599.8" cy="2581.2" r="2.45" fill="#4646c8"/>
<path d="M599.8 2548.1V2565.3M591.1 2548.1H608.5M591.1 2565.3H608.5" stroke="#1f6420" stroke-width="1.5" fill="none"/><circle cx="599.8" cy="2554.7" r="2.45" fill="#1f6420"/>
<path d="M599.8 2557.0V2565.3M591.1 2557.0H608.5M591.1 2565.3H608.5" stroke="#c4c43c" stroke-width="1.5" fill="none"/><circle cx="599.8" cy="2561.1" r="2.45" fill="#c4c43c"/>
<path d="M683.7 2449.7V2457.3M675.0 2449.7H692.4M675.0 2457.3H692.4" stroke="#8c4a50" stroke-width="1.5" fill="none"/><circle cx="683.7" cy="2452.9" r="2.45" fill="#8c4a50"/>
<path d="M683.7 2448.7V2455.7M675.0 2448.7H692.4M675.0 2455.7H692.4" stroke="#000" stroke-width="1.5" fill="none"/><circle cx="683.7" cy="2451.9" r="2.45" fill="#000"/>
<path d="M683.7 2542.0V2546.2M675.0 2542.0H692.4M675.0 2546.2H692.4" stroke="#c8444a" stroke-width="1.5" fill="none"/><circle cx="683.7" cy="2544.2" r="2.45" fill="#c8444a"/>
<path d="M683.7 2554.4V2585.6M675.0 2554.4H692.4M675.0 2585.6H692.4" stroke="#4646c8" stroke-width="1.5" fill="none"/><circle cx="683.7" cy="2569.7" r="2.45" fill="#4646c8"/>
<path d="M683.7 2540.4V2544.9M675.0 2540.4H692.4M675.0 2544.9H692.4" stroke="#1f6420" stroke-width="1.5" fill="none"/><circle cx="683.7" cy="2542.6" r="2.45" fill="#1f6420"/>
<path d="M683.7 2548.4V2571.9M675.0 2548.4H692.4M675.0 2571.9H692.4" stroke="#c4c43c" stroke-width="1.5" fill="none"/><circle cx="683.7" cy="2560.2" r="2.45" fill="#c4c43c"/>
<path d="M767.9 2478.3V2489.5M759.2 2478.3H776.6M759.2 2489.5H776.6" stroke="#8c4a50" stroke-width="1.5" fill="none"/><circle cx="767.9" cy="2483.1" r="2.45" fill="#8c4a50"/>
<path d="M767.9 2473.2V2485.3M759.2 2473.2H776.6M759.2 2485.3H776.6" stroke="#000" stroke-width="1.5" fill="none"/><circle cx="767.9" cy="2480.9" r="2.45" fill="#000"/>
<path d="M767.9 2542.0V2544.9M759.2 2542.0H776.6M759.2 2544.9H776.6" stroke="#c8444a" stroke-width="1.5" fill="none"/><circle cx="767.9" cy="2543.6" r="2.45" fill="#c8444a"/>
<path d="M767.9 2554.7V2582.4M759.2 2554.7H776.6M759.2 2582.4H776.6" stroke="#4646c8" stroke-width="1.5" fill="none"/><circle cx="767.9" cy="2569.1" r="2.45" fill="#4646c8"/>
<path d="M767.9 2543.6V2547.4M759.2 2543.6H776.6M759.2 2547.4H776.6" stroke="#1f6420" stroke-width="1.5" fill="none"/><circle cx="767.9" cy="2545.5" r="2.45" fill="#1f6420"/>
<path d="M767.9 2558.6V2574.8M759.2 2558.6H776.6M759.2 2574.8H776.6" stroke="#c4c43c" stroke-width="1.5" fill="none"/><circle cx="767.9" cy="2567.5" r="2.45" fill="#c4c43c"/>
<path d="M880.2 2440.3V2613.8M991.8 2440.3V2613.8M1104.1 2440.3V2613.8M824.2 2444.9H1160.0M824.2 2476.7H1160.0M824.2 2508.6H1160.0M824.2 2540.4H1160.0M824.2 2572.3H1160.0M824.2 2604.1H1160.0" stroke="#dcdcdc" stroke-width="1.3" fill="none"/>
<path d="M824.2 2440.3V2613.8H1160.0" stroke="#d0d0d0" stroke-width="1.4" fill="none"/>
<text x="880.20" y="2627.40" font-size="11.10" text-anchor="middle" font-family='"Liberation Sans", sans-serif' font-weight="normal" fill="#262626" >50</text>
<text x="991.80" y="2627.40" font-size="11.10" text-anchor="middle" font-family='"Liberation Sans", sans-serif' font-weight="normal" fill="#262626" >100</text>
<text x="1104.10" y="2627.40" font-size="11.10" text-anchor="middle" font-family='"Liberation Sans", sans-serif' font-weight="normal" fill="#262626" >200</text>
<text x="991.80" y="2641.70" font-size="13.65" text-anchor="middle" font-family='"Liberation Sans", sans-serif' font-weight="normal" fill="#262626" >Observation Dim</text>
<text x="991.80" y="2436.60" font-size="13.65" text-anchor="middle" font-family='"Liberation Sans", sans-serif' font-weight="normal" fill="#262626" >Number of Causal Features = 12</text>
<path d="M880.2 2457.6V2460.8M868.7 2457.6H891.7M868.7 2460.8H891.7" stroke="#8c4a50" stroke-width="1.5" fill="none"/><circle cx="880.2" cy="2459.2" r="2.45" fill="#8c4a50"/>
<path d="M880.2 2457.6V2460.2M868.7 2457.6H891.7M868.7 2460.2H891.7" stroke="#000" stroke-width="1.5" fill="none"/><circle cx="880.2" cy="2458.6" r="2.45" fill="#000"/>
<path d="M880.2 2574.5V2578.6M868.7 2574.5H891.7M868.7 2578.6H891.7" stroke="#c8444a" stroke-width="1.5" fill="none"/><circle cx="880.2" cy="2576.7" r="2.45" fill="#c8444a"/>
<path d="M880.2 2581.8V2605.7M868.7 2581.8H891.7M868.7 2605.7H891.7" stroke="#4646c8" stroke-width="1.5" fill="none"/><circle cx="880.2" cy="2594.5" r="2.45" fill="#4646c8"/>
<path d="M880.2 2577.7V2594.2M868.7 2577.7H891.7M868.7 2594.2H891.7" stroke="#1f6420" stroke-width="1.5" fill="none"/><circle cx="880.2" cy="2585.6" r="2.45" fill="#1f6420"/>
<path d="M880.2 2577.0V2587.9M868.7 2577.0H891.7M868.7 2587.9H891.7" stroke="#c4c43c" stroke-width="1.5" fill="none"/><circle cx="880.2" cy="2581.8" r="2.45" fill="#c4c43c"/>
<path d="M991.8 2450.3V2464.0M980.3 2450.3H1003.3M980.3 2464.0H1003.3" stroke="#8c4a50" stroke-width="1.5" fill="none"/><circle cx="991.8" cy="2457.3" r="2.45" fill="#8c4a50"/>
<path d="M991.8 2450.0V2464.0M980.3 2450.0H1003.3M980.3 2464.0H1003.3" stroke="#000" stroke-width="1.5" fill="none"/><circle cx="991.8" cy="2457.0" r="2.45" fill="#000"/>
<path d="M991.8 2570.3V2573.2M980.3 2570.3H1003.3M980.3 2573.2H1003.3" stroke="#c8444a" stroke-width="1.5" fill="none"/><circle cx="991.8" cy="2571.9" r="2.45" fill="#c8444a"/>
<path d="M991.8 2570.7V2587.5M980.3 2570.7H1003.3M980.3 2587.5H1003.3" stroke="#4646c8" stroke-width="1.5" fill="none"/><circle cx="991.8" cy="2575.4" r="2.45" fill="#4646c8"/>
<path d="M991.8 2569.7V2572.6M980.3 2569.7H1003.3M980.3 2572.6H1003.3" stroke="#1f6420" stroke-width="1.5" fill="none"/><circle cx="991.8" cy="2571.3" r="2.45" fill="#1f6420"/>
<path d="M991.8 2570.0V2572.9M980.3 2570.0H1003.3M980.3 2572.9H1003.3" stroke="#c4c43c" stroke-width="1.5" fill="none"/><circle cx="991.8" cy="2571.6" r="2.45" fill="#c4c43c"/>
<path d="M1104.1 2489.8V2503.8M1092.6 2489.8H1115.6M1092.6 2503.8H1115.6" stroke="#8c4a50" stroke-width="1.5" fill="none"/><circle cx="1104.1" cy="2496.2" r="2.45" fill="#8c4a50"/>
<path d="M1104.1 2489.5V2503.2M1092.6 2489.5H1115.6M1092.6 2503.2H1115.6" stroke="#000" stroke-width="1.5" fill="none"/><circle cx="1104.1" cy="2495.8" r="2.45" fill="#000"/>
<path d="M1104.1 2571.3V2574.8M1092.6 2571.3H1115.6M1092.6 2574.8H1115.6" stroke="#c8444a" stroke-width="1.5" fill="none"/><circle cx="1104.1" cy="2573.2" r="2.45" fill="#c8444a"/>
<path d="M1104.1 2575.4V2604.7M1092.6 2575.4H1115.6M1092.6 2604.7H1115.6" stroke="#4646c8" stroke-width="1.5" fill="none"/><circle cx="1104.1" cy="2590.1" r="2.45" fill="#4646c8"/>
<path d="M1104.1 2571.9V2576.1M1092.6 2571.9H1115.6M1092.6 2576.1H1115.6" stroke="#1f6420" stroke-width="1.5" fill="none"/><circle cx="1104.1" cy="2573.9" r="2.45" fill="#1f6420"/>
<path d="M1104.1 2573.2V2584.0M1092.6 2573.2H1115.6M1092.6 2584.0H1115.6" stroke="#c4c43c" stroke-width="1.5" fill="none"/><circle cx="1104.1" cy="2578.6" r="2.45" fill="#c4c43c"/>
<text x="1201.90" y="2486.50" font-size="13.00" text-anchor="start" font-family='"Liberation Sans", sans-serif' font-weight="normal" fill="#262626" >Method</text>
<circle cx="1181.8" cy="2500.5" r="2.3" fill="#8c4a50"/>
<text x="1203.50" y="2504.30" font-size="12.10" text-anchor="start" font-family='"Liberation Sans", sans-serif' font-weight="normal" fill="#262626" >MTRN (weak)</text>
<circle cx="1181.8" cy="2517.8" r="2.3" fill="#000"/>
<text x="1203.50" y="2521.60" font-size="12.10" text-anchor="start" font-family='"Liberation Sans", sans-serif' font-weight="normal" fill="#262626" >MTLCM</text>
<circle cx="1181.8" cy="2535.1" r="2.3" fill="#c8444a"/>
<text x="1203.50" y="2538.90" font-size="12.10" text-anchor="start" font-family='"Liberation Sans", sans-serif' font-weight="normal" fill="#262626" >iVAE</text>
<circle cx="1181.8" cy="2552.4" r="2.3" fill="#4646c8"/>
<text x="1203.50" y="2556.20" font-size="12.10" text-anchor="start" font-family='"Liberation Sans", sans-serif' font-weight="normal" fill="#262626" >iCaRL</text>
<circle cx="1181.8" cy="2569.7" r="2.3" fill="#1f6420"/>
<text x="1203.50" y="2573.50" font-size="12.10" text-anchor="start" font-family='"Liberation Sans", sans-serif' font-weight="normal" fill="#262626" >MT-iVAE</text>
<circle cx="1181.8" cy="2587.0" r="2.3" fill="#c4c43c"/>
<text x="1203.50" y="2590.80" font-size="12.10" text-anchor="start" font-family='"Liberation Sans", sans-serif' font-weight="normal" fill="#262626" >MT-iCaRL</text>
<path d="M1444.2 2303.8V2567.1M1584.6 2303.8V2567.1M1724.7 2303.8V2567.1M1374.6 2313.5H1795.1M1374.6 2361.9H1795.1M1374.6 2410.3H1795.1M1374.6 2458.7H1795.1M1374.6 2507.1H1795.1M1374.6 2555.4H1795.1" stroke="#d9d9d9" stroke-width="1.2" fill="none"/>
<path d="M1374.6 2303.8V2567.1H1795.1M1444.2 2567.1v5.5M1584.6 2567.1v5.5M1724.7 2567.1v5.5M1374.6 2313.5h-5.5M1374.6 2361.9h-5.5M1374.6 2410.3h-5.5M1374.6 2458.7h-5.5M1374.6 2507.1h-5.5M1374.6 2555.4h-5.5" stroke="#333" stroke-width="1.4" fill="none"/>
<text x="1367.00" y="2319.10" font-size="15.70" text-anchor="end" font-family='"Liberation Sans", sans-serif' font-weight="normal" fill="#262626" >1.0</text>
<text x="1367.00" y="2367.49" font-size="15.70" text-anchor="end" font-family='"Liberation Sans", sans-serif' font-weight="normal" fill="#262626" >0.8</text>
<text x="1367.00" y="2415.88" font-size="15.70" text-anchor="end" font-family='"Liberation Sans", sans-serif' font-weight="normal" fill="#262626" >0.6</text>
<text x="1367.00" y="2464.27" font-size="15.70" text-anchor="end" font-family='"Liberation Sans", sans-serif' font-weight="normal" fill="#262626" >0.4</text>
<text x="1367.00" y="2512.66" font-size="15.70" text-anchor="end" font-family='"Liberation Sans", sans-serif' font-weight="normal" fill="#262626" >0.2</text>
<text x="1367.00" y="2561.05" font-size="15.70" text-anchor="end" font-family='"Liberation Sans", sans-serif' font-weight="normal" fill="#262626" >0.0</text>
<text x="1444.20" y="2586.60" font-size="15.70" text-anchor="middle" font-family='"Liberation Sans", sans-serif' font-weight="normal" fill="#262626" >5</text>
<text x="1584.60" y="2586.60" font-size="15.70" text-anchor="middle" font-family='"Liberation Sans", sans-serif' font-weight="normal" fill="#262626" >10</text>
<text x="1724.70" y="2586.60" font-size="15.70" text-anchor="middle" font-family='"Liberation Sans", sans-serif' font-weight="normal" fill="#262626" >20</text>
<text x="1584.60" y="2606.80" font-size="19.30" text-anchor="middle" font-family='"Liberation Sans", sans-serif' font-weight="normal" fill="#262626" >Latent Dim</text>
<text transform="translate(1337,2435.5) rotate(-90)" text-anchor="middle" font-family='"Liberation Sans", sans-serif' font-size="19.3" fill="#262626">MCC</text>
<path d="M1444.2 2315.4V2316.4M1429.5 2315.4H1458.9M1429.5 2316.4H1458.9" stroke="#000" stroke-width="1.7" fill="none"/><circle cx="1444.2" cy="2315.9" r="3.3" fill="#000"/>
<path d="M1444.2 2475.4V2475.8M1429.5 2475.4H1458.9M1429.5 2475.8H1458.9" stroke="#c8444a" stroke-width="1.7" fill="none"/><circle cx="1444.2" cy="2475.6" r="3.3" fill="#c8444a"/>
<path d="M1444.2 2473.7V2474.2M1429.5 2473.7H1458.9M1429.5 2474.2H1458.9" stroke="#4646c8" stroke-width="1.7" fill="none"/><circle cx="1444.2" cy="2473.9" r="3.3" fill="#4646c8"/>
<path d="M1444.2 2462.8V2475.6M1429.5 2462.8H1458.9M1429.5 2475.6H1458.9" stroke="#1f6420" stroke-width="1.7" fill="none"/><circle cx="1444.2" cy="2469.6" r="3.3" fill="#1f6420"/>
<circle cx="1444.2" cy="2555.4" r="3.3" fill="#c4c43c"/>
<path d="M1584.6 2319.5V2321.0M1569.9 2319.5H1599.3M1569.9 2321.0H1599.3" stroke="#8c4a50" stroke-width="1.7" fill="none"/><circle cx="1584.6" cy="2320.3" r="3.3" fill="#8c4a50"/>
<path d="M1584.6 2320.0V2321.7M1569.9 2320.0H1599.3M1569.9 2321.7H1599.3" stroke="#000" stroke-width="1.7" fill="none"/><circle cx="1584.6" cy="2320.8" r="3.3" fill="#000"/>
<path d="M1584.6 2478.0V2480.0M1569.9 2478.0H1599.3M1569.9 2480.0H1599.3" stroke="#c8444a" stroke-width="1.7" fill="none"/><circle cx="1584.6" cy="2479.0" r="3.3" fill="#c8444a"/>
<path d="M1584.6 2475.6V2480.9M1569.9 2475.6H1599.3M1569.9 2480.9H1599.3" stroke="#4646c8" stroke-width="1.7" fill="none"/><circle cx="1584.6" cy="2478.5" r="3.3" fill="#4646c8"/>
<path d="M1584.6 2472.0V2478.0M1569.9 2472.0H1599.3M1569.9 2478.0H1599.3" stroke="#1f6420" stroke-width="1.7" fill="none"/><circle cx="1584.6" cy="2475.6" r="3.3" fill="#1f6420"/>
<path d="M1584.6 2466.7V2473.7M1569.9 2466.7H1599.3M1569.9 2473.7H1599.3" stroke="#c4c43c" stroke-width="1.7" fill="none"/><circle cx="1584.6" cy="2470.3" r="3.3" fill="#c4c43c"/>
<path d="M1724.7 2329.7V2330.2M1710.0 2329.7H1739.4M1710.0 2330.2H1739.4" stroke="#8c4a50" stroke-width="1.7" fill="none"/><circle cx="1724.7" cy="2330.0" r="3.3" fill="#8c4a50"/>
<path d="M1724.7 2347.4V2354.6M1710.0 2347.4H1739.4M1710.0 2354.6H1739.4" stroke="#000" stroke-width="1.7" fill="none"/><circle cx="1724.7" cy="2351.0" r="3.3" fill="#000"/>
<path d="M1724.7 2480.0V2483.1M1710.0 2480.0H1739.4M1710.0 2483.1H1739.4" stroke="#c8444a" stroke-width="1.7" fill="none"/><circle cx="1724.7" cy="2481.7" r="3.3" fill="#c8444a"/>
<path d="M1724.7 2466.9V2470.8M1710.0 2466.9H1739.4M1710.0 2470.8H1739.4" stroke="#4646c8" stroke-width="1.7" fill="none"/><circle cx="1724.7" cy="2469.1" r="3.3" fill="#4646c8"/>
<path d="M1724.7 2477.1V2480.0M1710.0 2477.1H1739.4M1710.0 2480.0H1739.4" stroke="#1f6420" stroke-width="1.7" fill="none"/><circle cx="1724.7" cy="2478.5" r="3.3" fill="#1f6420"/>
<path d="M1724.7 2471.0V2471.5M1710.0 2471.0H1739.4M1710.0 2471.5H1739.4" stroke="#c4c43c" stroke-width="1.7" fill="none"/><circle cx="1724.7" cy="2471.3" r="3.3" fill="#c4c43c"/>
<text x="1844.60" y="2389.60" font-size="17.40" text-anchor="start" font-family='"Liberation Sans", sans-serif' font-weight="normal" fill="#262626" >Method</text>
<circle cx="1815.2" cy="2409.2" r="3.3" fill="#8c4a50"/>
<text x="1846.70" y="2414.50" font-size="17.00" text-anchor="start" font-family='"Liberation Sans", sans-serif' font-weight="normal" fill="#262626" >MTRN (weak)</text>
<circle cx="1815.2" cy="2433.3" r="3.3" fill="#000"/>
<text x="1846.70" y="2438.65" font-size="17.00" text-anchor="start" font-family='"Liberation Sans", sans-serif' font-weight="normal" fill="#262626" >MTLCM</text>
<circle cx="1815.2" cy="2457.5" r="3.3" fill="#c8444a"/>
<text x="1846.70" y="2462.80" font-size="17.00" text-anchor="start" font-family='"Liberation Sans", sans-serif' font-weight="normal" fill="#262626" >iVAE</text>
<circle cx="1815.2" cy="2481.6" r="3.3" fill="#4646c8"/>
<text x="1846.70" y="2486.95" font-size="17.00" text-anchor="start" font-family='"Liberation Sans", sans-serif' font-weight="normal" fill="#262626" >iCaRL</text>
<circle cx="1815.2" cy="2505.8" r="3.3" fill="#1f6420"/>
<text x="1846.70" y="2511.10" font-size="17.00" text-anchor="start" font-family='"Liberation Sans", sans-serif' font-weight="normal" fill="#262626" >MT-iVAE</text>
<circle cx="1815.2" cy="2529.9" r="3.3" fill="#c4c43c"/>
<text x="1846.70" y="2535.25" font-size="17.00" text-anchor="start" font-family='"Liberation Sans", sans-serif' font-weight="normal" fill="#262626" >MT-iCaRL</text>
<defs><clipPath id="shc"><path d="M1296 2783H1348.9V2817C1348.9 2826 1344 2832.5 1336 2836.5L1322.5 2843.8L1309 2836.5C1301 2832.5 1296 2826 1296 2817Z"/></clipPath></defs>
<g clip-path="url(#shc)"><rect x="1295" y="2782" width="55" height="63" fill="#df3128"/><rect x="1317" y="2782" width="11" height="63" fill="#fff"/><rect x="1295" y="2803.8" width="55" height="11.1" fill="#fff"/><circle cx="1319.35" cy="2789.67" r="0.75" fill="#222"/><circle cx="1325.39" cy="2789.67" r="0.75" fill="#222"/><circle cx="1322.37" cy="2794.85" r="0.75" fill="#222"/><circle cx="1319.35" cy="2800.25" r="0.75" fill="#222"/><circle cx="1325.39" cy="2800.25" r="0.75" fill="#222"/><circle cx="1322.37" cy="2820.32" r="0.75" fill="#222"/><circle cx="1319.35" cy="2826.14" r="0.75" fill="#222"/><circle cx="1325.39" cy="2826.14" r="0.75" fill="#222"/><circle cx="1322.37" cy="2831.32" r="0.75" fill="#222"/><circle cx="1319.35" cy="2837.15" r="0.75" fill="#222"/><circle cx="1325.39" cy="2837.15" r="0.75" fill="#222"/><circle cx="1300.27" cy="2808.45" r="0.75" fill="#222"/><circle cx="1306.83" cy="2808.45" r="0.75" fill="#222"/><circle cx="1313.31" cy="2808.45" r="0.75" fill="#222"/><circle cx="1303.51" cy="2812.33" r="0.75" fill="#222"/><circle cx="1309.85" cy="2812.33" r="0.75" fill="#222"/><circle cx="1331.52" cy="2808.45" r="0.75" fill="#222"/><circle cx="1338.12" cy="2808.45" r="0.75" fill="#222"/><circle cx="1344.73" cy="2808.45" r="0.75" fill="#222"/><circle cx="1334.89" cy="2812.33" r="0.75" fill="#222"/><circle cx="1341.36" cy="2812.33" r="0.75" fill="#222"/><path d="M1319.35 2789.07v-2.2M1325.39 2789.07v-2.2M1322.37 2794.25v-2.2M1319.35 2799.65v-2.2M1325.39 2799.65v-2.2M1322.37 2819.72v-2.2M1319.35 2825.54v-2.2M1325.39 2825.54v-2.2M1322.37 2830.72v-2.2M1319.35 2836.55v-2.2M1325.39 2836.55v-2.2M1300.27 2807.85v-2.2M1306.83 2807.85v-2.2M1313.31 2807.85v-2.2M1303.51 2811.73v-2.2M1309.85 2811.73v-2.2M1331.52 2807.85v-2.2M1338.12 2807.85v-2.2M1344.73 2807.85v-2.2M1334.89 2811.73v-2.2M1341.36 2811.73v-2.2" stroke="#333" stroke-width="0.45"/><rect x="1316.3" y="2805.2" width="11.9" height="8.2" fill="#d92d24"/><rect x="1316.6" y="2805" width="11.3" height="1.8" fill="#c9a227"/><ellipse cx="1322.3" cy="2809.8" rx="1.5" ry="0.8" fill="#c9a227"/><rect x="1318" y="2814.3" width="1.4" height="1.7" fill="#e2c229"/><rect x="1325" y="2814.3" width="1.4" height="1.7" fill="#e2c229"/><g transform="translate(1297,2783.5)"><path d="M7.3 6.2L7.9 9.4L15.4 10.2M7.6 9.5L4.3 10.7L3 5.4M7.6 10L5.6 13.4L3.6 16.4M9.6 10.4L10.6 14L8.6 16.5M14.4 10.4L13.5 14.4L12 16.7M15.4 10.2L17.2 14L16.2 16.9M15.4 10C19 8.2 18.2 5.6 15 5.6C12.2 5.6 12.2 2.6 17.4 2.9" stroke="#e6c41f" stroke-width="2.2" fill="none" stroke-linecap="round" stroke-linejoin="round"/><circle cx="7.3" cy="4.1" r="2" fill="#e2bf1c"/><path d="M5.8 2.3L7.3 0.9L8.8 2.3z" fill="#d4b21c"/></g><g transform="translate(1328.6,2783.5)"><path d="M7.3 6.2L7.9 9.4L15.4 10.2M7.6 9.5L4.3 10.7L3 5.4M7.6 10L5.6 13.4L3.6 16.4M9.6 10.4L10.6 14L8.6 16.5M14.4 10.4L13.5 14.4L12 16.7M15.4 10.2L17.2 14L16.2 16.9M15.4 10C19 8.2 18.2 5.6 15 5.6C12.2 5.6 12.2 2.6 17.4 2.9" stroke="#e6c41f" stroke-width="2.2" fill="none" stroke-linecap="round" stroke-linejoin="round"/><circle cx="7.3" cy="4.1" r="2" fill="#e2bf1c"/><path d="M5.8 2.3L7.3 0.9L8.8 2.3z" fill="#d4b21c"/></g><g transform="translate(1297,2815.4)"><path d="M7.3 6.2L7.9 9.4L15.4 10.2M7.6 9.5L4.3 10.7L3 5.4M7.6 10L5.6 13.4L3.6 16.4M9.6 10.4L10.6 14L8.6 16.5M14.4 10.4L13.5 14.4L12 16.7M15.4 10.2L17.2 14L16.2 16.9M15.4 10C19 8.2 18.2 5.6 15 5.6C12.2 5.6 12.2 2.6 17.4 2.9" stroke="#e6c41f" stroke-width="2.2" fill="none" stroke-linecap="round" stroke-linejoin="round"/><circle cx="7.3" cy="4.1" r="2" fill="#e2bf1c"/><path d="M5.8 2.3L7.3 0.9L8.8 2.3z" fill="#d4b21c"/></g><g transform="translate(1328.6,2815.4) rotate(-14 10 9)"><path d="M7.3 6.2L7.9 9.4L15.4 10.2M7.6 9.5L4.3 10.7L3 5.4M7.6 10L5.6 13.4L3.6 16.4M9.6 10.4L10.6 14L8.6 16.5M14.4 10.4L13.5 14.4L12 16.7M15.4 10.2L17.2 14L16.2 16.9M15.4 10C19 8.2 18.2 5.6 15 5.6C12.2 5.6 12.2 2.6 17.4 2.9" stroke="#e6c41f" stroke-width="2.2" fill="none" stroke-linecap="round" stroke-linejoin="round"/><circle cx="7.3" cy="4.1" r="2" fill="#e2bf1c"/><path d="M5.8 2.3L7.3 0.9L8.8 2.3z" fill="#d4b21c"/></g></g><path d="M1296 2783H1348.9V2817C1348.9 2826 1344 2832.5 1336 2836.5L1322.5 2843.8L1309 2836.5C1301 2832.5 1296 2826 1296 2817Z" fill="none" stroke="#3a2a2a" stroke-width="0.9"/>
<text x="1361" y="2803.3" font-family='"Liberation Serif", serif' font-size="31" fill="#231f20" stroke="#231f20" stroke-width="0.45" textLength="237.5" lengthAdjust="spacingAndGlyphs">UNIVERSITY OF</text>
<text x="1363.2" y="2839.4" font-family='"Liberation Serif", serif' font-size="39" fill="#231f20" stroke="#231f20" stroke-width="0.5" textLength="235.7" lengthAdjust="spacingAndGlyphs">CAMBRIDGE</text>
<circle cx="1696.6" cy="2811.3" r="39.2" fill="none" stroke="#1c8a72" stroke-width="1.15"/><path d="M1666.08 2828.22A34.9 34.9 0 0 1 1713.52 2780.78M1672.46 2824.68A27.6 27.6 0 0 1 1709.13 2786.71M1674.00 2823.32A25.6 25.6 0 0 1 1706.19 2787.56M1675.04 2822.29A24.2 24.2 0 0 1 1704.88 2788.56M1713.52 2780.78L1709.13 2786.71M1666.08 2828.22L1675.04 2822.29M1669.40 2820.14L1665.03 2822.79M1668.28 2815.28L1663.51 2817.13M1668.02 2810.30L1663.00 2811.30M1668.62 2805.35L1663.51 2805.47M1670.08 2800.59L1665.03 2799.81M1672.35 2796.14L1667.50 2794.50M1675.35 2792.16L1670.86 2789.70M1678.99 2788.76L1675.00 2785.56M1683.17 2786.05L1679.80 2782.20M1687.76 2784.10L1685.11 2779.73M1692.62 2782.98L1690.77 2778.21M1697.60 2782.72L1696.60 2777.70M1702.55 2783.32L1702.43 2778.21M1707.31 2784.78L1708.09 2779.73" fill="none" stroke="#1c8a72" stroke-width="1"/><path d="M1714.15 2791.36L1716.78 2797.81L1718.25 2802.49L1720.30 2809.52L1722.93 2815.97L1722.35 2818.02L1719.01 2818.60L1718.25 2820.65L1719.60 2822.70L1716.49 2824.17L1718.66 2826.51L1717.37 2830.61L1714.44 2833.54L1708.58 2834.83L1702.72 2832.37L1696.87 2827.10L1694.64 2824.29M1707.12 2835.01L1706.53 2839.99L1708.58 2844.20L1686.32 2844.44M1694.64 2824.46L1696.40 2829.44L1696.69 2836.76M1717.96 2799.27L1710.93 2801.03L1704.48 2805.42L1699.21 2811.28L1695.99 2817.14M1717.37 2801.03L1711.51 2802.79L1705.65 2806.89L1700.97 2811.87L1697.74 2817.72M1701.26 2809.05L1705.18 2811.40L1703.02 2817.72L1699.33 2819.60L1696.28 2817.26L1698.15 2812.16ZM1701.55 2811.87L1699.79 2816.55M1709.46 2811.40L1715.03 2810.23M1710.93 2809.05L1715.14 2808.47M1716.20 2816.55L1716.78 2818.60M1714.44 2824.46L1716.49 2824.17M1680.46 2837.64L1696.40 2837.64L1696.87 2840.57L1693.64 2844.20M1685.15 2834.71L1693.35 2834.13L1693.06 2829.44M1682.81 2837.93L1684.27 2844.09M1685.74 2837.93L1687.20 2844.09M1688.66 2837.93L1690.13 2844.09M1691.59 2837.93L1693.06 2844.09M1693.64 2838.93L1694.52 2841.16L1696.28 2839.11M1675.78 2828.56L1674.60 2835.30L1678.41 2840.69L1681.93 2834.42L1677.83 2828.56M1672.55 2828.27L1673.14 2832.37M1674.02 2827.39L1674.90 2830.61M1676.07 2827.98L1711.22 2791.07M1691.01 2816.55L1712.98 2792.53M1692.18 2818.02L1714.44 2793.12" fill="none" stroke="#1c8a72" stroke-width="0.95" stroke-linejoin="round" stroke-linecap="round"/><ellipse cx="1675.63" cy="2823.73" rx="2.9" ry="1.15" transform="rotate(-14 1675.63 2823.73)" fill="none" stroke="#1c8a72" stroke-width="0.8"/><ellipse cx="1679.43" cy="2826.93" rx="2.9" ry="1.15" transform="rotate(-78 1679.43 2826.93)" fill="none" stroke="#1c8a72" stroke-width="0.8"/><ellipse cx="1679.51" cy="2819.62" rx="2.9" ry="1.15" transform="rotate(-14 1679.51 2819.62)" fill="none" stroke="#1c8a72" stroke-width="0.8"/><ellipse cx="1683.31" cy="2822.82" rx="2.9" ry="1.15" transform="rotate(-78 1683.31 2822.82)" fill="none" stroke="#1c8a72" stroke-width="0.8"/><ellipse cx="1683.40" cy="2815.52" rx="2.9" ry="1.15" transform="rotate(-14 1683.40 2815.52)" fill="none" stroke="#1c8a72" stroke-width="0.8"/><ellipse cx="1687.20" cy="2818.72" rx="2.9" ry="1.15" transform="rotate(-78 1687.20 2818.72)" fill="none" stroke="#1c8a72" stroke-width="0.8"/><ellipse cx="1687.28" cy="2811.42" rx="2.9" ry="1.15" transform="rotate(-14 1687.28 2811.42)" fill="none" stroke="#1c8a72" stroke-width="0.8"/><ellipse cx="1691.08" cy="2814.62" rx="2.9" ry="1.15" transform="rotate(-78 1691.08 2814.62)" fill="none" stroke="#1c8a72" stroke-width="0.8"/><ellipse cx="1691.16" cy="2807.32" rx="2.9" ry="1.15" transform="rotate(-14 1691.16 2807.32)" fill="none" stroke="#1c8a72" stroke-width="0.8"/><ellipse cx="1694.96" cy="2810.52" rx="2.9" ry="1.15" transform="rotate(-78 1694.96 2810.52)" fill="none" stroke="#1c8a72" stroke-width="0.8"/><ellipse cx="1695.04" cy="2803.22" rx="2.9" ry="1.15" transform="rotate(-14 1695.04 2803.22)" fill="none" stroke="#1c8a72" stroke-width="0.8"/><ellipse cx="1698.84" cy="2806.42" rx="2.9" ry="1.15" transform="rotate(-78 1698.84 2806.42)" fill="none" stroke="#1c8a72" stroke-width="0.8"/><ellipse cx="1698.92" cy="2799.12" rx="2.9" ry="1.15" transform="rotate(-14 1698.92 2799.12)" fill="none" stroke="#1c8a72" stroke-width="0.8"/><ellipse cx="1702.72" cy="2802.32" rx="2.9" ry="1.15" transform="rotate(-78 1702.72 2802.32)" fill="none" stroke="#1c8a72" stroke-width="0.8"/><ellipse cx="1702.80" cy="2795.02" rx="2.9" ry="1.15" transform="rotate(-14 1702.80 2795.02)" fill="none" stroke="#1c8a72" stroke-width="0.8"/><ellipse cx="1706.60" cy="2798.22" rx="2.9" ry="1.15" transform="rotate(-78 1706.60 2798.22)" fill="none" stroke="#1c8a72" stroke-width="0.8"/><ellipse cx="1706.68" cy="2790.92" rx="2.9" ry="1.15" transform="rotate(-14 1706.68 2790.92)" fill="none" stroke="#1c8a72" stroke-width="0.8"/><ellipse cx="1710.48" cy="2794.12" rx="2.9" ry="1.15" transform="rotate(-78 1710.48 2794.12)" fill="none" stroke="#1c8a72" stroke-width="0.8"/>
<text x="1741.6" y="2801" font-family='"Liberation Sans", sans-serif' font-size="13.4" fill="#3f9a84" textLength="125.9" lengthAdjust="spacing">Max Planck Institute for</text>
<text x="1742.1" y="2824.4" font-family='"Liberation Sans", sans-serif' font-weight="bold" font-size="29.4" fill="#087a64" textLength="232.3" lengthAdjust="spacing">Intelligent Systems</text>
</svg>
</div>
</body></html>
